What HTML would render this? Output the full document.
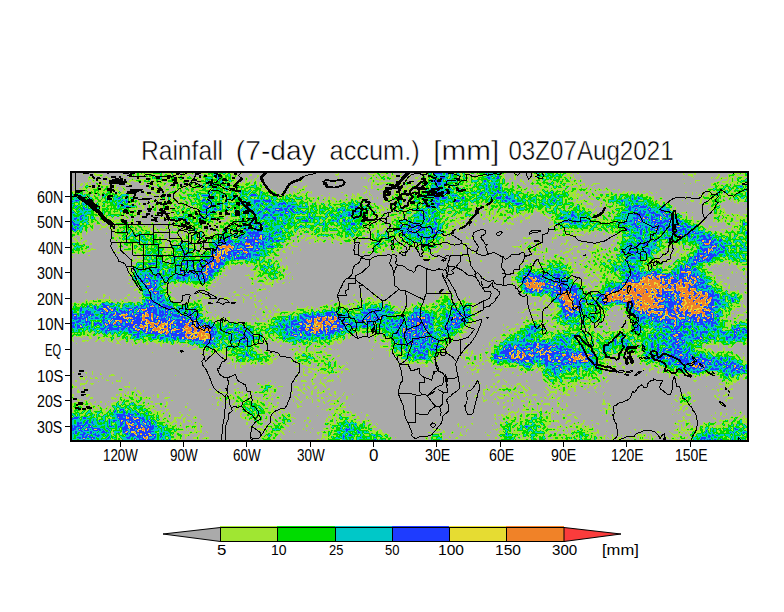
<!DOCTYPE html>
<html><head><meta charset="utf-8"><style>
html,body{margin:0;padding:0;background:#fff;width:784px;height:612px;overflow:hidden}
svg{display:block;font-family:"Liberation Sans",sans-serif;fill:#000}
</style></head><body>
<svg width="784" height="612" viewBox="0 0 784 612" shape-rendering="crispEdges">
<rect width="784" height="612" fill="#fff"/>
<text x="140.9" y="159.6" font-size="27.6" stroke="#fff" stroke-width="0.5" textLength="82.2" lengthAdjust="spacingAndGlyphs">Rainfall</text>
<text x="235.8" y="159.6" font-size="27.6" stroke="#fff" stroke-width="0.5" textLength="80.0" lengthAdjust="spacingAndGlyphs">(7-day</text>
<text x="329.6" y="159.6" font-size="27.6" stroke="#fff" stroke-width="0.5" textLength="90.1" lengthAdjust="spacingAndGlyphs">accum.)</text>
<text x="433.2" y="159.6" font-size="27.6" stroke="#fff" stroke-width="0.5" textLength="66.0" lengthAdjust="spacingAndGlyphs">[mm]</text>
<text x="508.4" y="159.6" font-size="27.6" stroke="#fff" stroke-width="0.5" textLength="165.2" lengthAdjust="spacingAndGlyphs">03Z07Aug2021</text>
<defs><clipPath id="mc"><rect x="72" y="173" width="675" height="267"/></clipPath></defs>
<rect x="72" y="173" width="675" height="267" fill="#aaaaaa"/>
<g clip-path="url(#mc)"><filter id="ff" x="60" y="160" width="700" height="290" filterUnits="userSpaceOnUse" color-interpolation-filters="sRGB">
<feGaussianBlur in="SourceGraphic" stdDeviation="3.5" result="b"/>
<feTurbulence type="fractalNoise" baseFrequency="0.35" numOctaves="1" seed="5"/>
<feColorMatrix type="matrix" values="1 0 0 0 0 1 0 0 0 0 1 0 0 0 0 0 0 0 0 1" result="n"/>
<feComposite in="b" in2="n" operator="arithmetic" k1="0" k2="1" k3="0.6542" k4="-0.3271"/>
<feComponentTransfer>
<feFuncR type="discrete" tableValues="0.6667 0.6667 0.6667 0.6667 0.6667 0.6667 0.6667 0.6667 0.6275 0.6275 0.6275 0.6275 0.0000 0.0000 0.0000 0.0000 0.0000 0.0000 0.0000 0.0000 0.1176 0.1176 0.1176 0.1176 0.1176 0.9020 0.9020 0.9412 0.9412 0.9412 0.9412 0.9412 0.9412 0.9412 0.9412 0.9412 0.9804 0.9804 0.9804 0.9804"/>
<feFuncG type="discrete" tableValues="0.6667 0.6667 0.6667 0.6667 0.6667 0.6667 0.6667 0.6667 0.9020 0.9020 0.9020 0.9020 0.8627 0.8627 0.8627 0.8627 0.7843 0.7843 0.7843 0.7843 0.2353 0.2353 0.2353 0.2353 0.2353 0.8627 0.8627 0.5098 0.5098 0.5098 0.5098 0.5098 0.5098 0.5098 0.5098 0.5098 0.2353 0.2353 0.2353 0.2353"/>
<feFuncB type="discrete" tableValues="0.6667 0.6667 0.6667 0.6667 0.6667 0.6667 0.6667 0.6667 0.1961 0.1961 0.1961 0.1961 0.0000 0.0000 0.0000 0.0000 0.7843 0.7843 0.7843 0.7843 1.0000 1.0000 1.0000 1.0000 1.0000 0.1961 0.1961 0.1569 0.1569 0.1569 0.1569 0.1569 0.1569 0.1569 0.1569 0.1569 0.2353 0.2353 0.2353 0.2353"/>
<feFuncA type="linear" slope="0" intercept="1"/>
</feComponentTransfer>
</filter><g filter="url(#ff)"><rect x="60" y="160" width="700" height="290" fill="#000"/>
<rect x="82" y="160" width="30" height="23" fill="#262626"/>
<rect x="122" y="160" width="10" height="23" fill="#262626"/>
<rect x="132" y="160" width="20" height="23" fill="#424242"/>
<rect x="152" y="160" width="10" height="23" fill="#595959"/>
<rect x="162" y="160" width="30" height="23" fill="#424242"/>
<rect x="192" y="160" width="10" height="23" fill="#262626"/>
<rect x="202" y="160" width="30" height="23" fill="#595959"/>
<rect x="232" y="160" width="30" height="23" fill="#262626"/>
<rect x="332" y="160" width="10" height="23" fill="#262626"/>
<rect x="362" y="160" width="10" height="23" fill="#262626"/>
<rect x="372" y="160" width="20" height="23" fill="#424242"/>
<rect x="392" y="160" width="30" height="23" fill="#262626"/>
<rect x="422" y="160" width="10" height="23" fill="#424242"/>
<rect x="432" y="160" width="10" height="23" fill="#858585"/>
<rect x="442" y="160" width="10" height="23" fill="#6e6e6e"/>
<rect x="452" y="160" width="10" height="23" fill="#595959"/>
<rect x="462" y="160" width="20" height="23" fill="#424242"/>
<rect x="482" y="160" width="20" height="23" fill="#6e6e6e"/>
<rect x="502" y="160" width="20" height="23" fill="#262626"/>
<rect x="532" y="160" width="30" height="23" fill="#595959"/>
<rect x="562" y="160" width="10" height="23" fill="#424242"/>
<rect x="572" y="160" width="10" height="23" fill="#262626"/>
<rect x="682" y="160" width="20" height="23" fill="#262626"/>
<rect x="712" y="160" width="20" height="23" fill="#262626"/>
<rect x="732" y="160" width="32" height="23" fill="#424242"/>
<rect x="60" y="183" width="22" height="10" fill="#262626"/>
<rect x="82" y="183" width="30" height="10" fill="#424242"/>
<rect x="112" y="183" width="20" height="10" fill="#262626"/>
<rect x="142" y="183" width="10" height="10" fill="#262626"/>
<rect x="152" y="183" width="10" height="10" fill="#424242"/>
<rect x="162" y="183" width="10" height="10" fill="#262626"/>
<rect x="172" y="183" width="30" height="10" fill="#424242"/>
<rect x="202" y="183" width="30" height="10" fill="#595959"/>
<rect x="232" y="183" width="10" height="10" fill="#424242"/>
<rect x="242" y="183" width="20" height="10" fill="#595959"/>
<rect x="262" y="183" width="10" height="10" fill="#262626"/>
<rect x="292" y="183" width="20" height="10" fill="#262626"/>
<rect x="362" y="183" width="40" height="10" fill="#262626"/>
<rect x="402" y="183" width="10" height="10" fill="#424242"/>
<rect x="412" y="183" width="10" height="10" fill="#262626"/>
<rect x="422" y="183" width="10" height="10" fill="#595959"/>
<rect x="432" y="183" width="10" height="10" fill="#858585"/>
<rect x="442" y="183" width="20" height="10" fill="#595959"/>
<rect x="462" y="183" width="10" height="10" fill="#424242"/>
<rect x="472" y="183" width="10" height="10" fill="#595959"/>
<rect x="482" y="183" width="20" height="10" fill="#6e6e6e"/>
<rect x="502" y="183" width="20" height="10" fill="#424242"/>
<rect x="522" y="183" width="20" height="10" fill="#262626"/>
<rect x="542" y="183" width="50" height="10" fill="#424242"/>
<rect x="592" y="183" width="20" height="10" fill="#262626"/>
<rect x="702" y="183" width="10" height="10" fill="#262626"/>
<rect x="712" y="183" width="52" height="10" fill="#595959"/>
<rect x="60" y="193" width="22" height="10" fill="#6e6e6e"/>
<rect x="82" y="193" width="10" height="10" fill="#595959"/>
<rect x="92" y="193" width="10" height="10" fill="#424242"/>
<rect x="102" y="193" width="10" height="10" fill="#595959"/>
<rect x="112" y="193" width="20" height="10" fill="#6e6e6e"/>
<rect x="132" y="193" width="30" height="10" fill="#262626"/>
<rect x="162" y="193" width="30" height="10" fill="#424242"/>
<rect x="192" y="193" width="10" height="10" fill="#595959"/>
<rect x="202" y="193" width="10" height="10" fill="#6e6e6e"/>
<rect x="212" y="193" width="30" height="10" fill="#595959"/>
<rect x="242" y="193" width="30" height="10" fill="#6e6e6e"/>
<rect x="272" y="193" width="30" height="10" fill="#595959"/>
<rect x="302" y="193" width="10" height="10" fill="#424242"/>
<rect x="312" y="193" width="40" height="10" fill="#262626"/>
<rect x="352" y="193" width="10" height="10" fill="#424242"/>
<rect x="362" y="193" width="10" height="10" fill="#262626"/>
<rect x="382" y="193" width="10" height="10" fill="#262626"/>
<rect x="392" y="193" width="10" height="10" fill="#595959"/>
<rect x="402" y="193" width="10" height="10" fill="#262626"/>
<rect x="412" y="193" width="20" height="10" fill="#595959"/>
<rect x="432" y="193" width="10" height="10" fill="#858585"/>
<rect x="442" y="193" width="20" height="10" fill="#6e6e6e"/>
<rect x="462" y="193" width="10" height="10" fill="#595959"/>
<rect x="472" y="193" width="10" height="10" fill="#6e6e6e"/>
<rect x="482" y="193" width="10" height="10" fill="#595959"/>
<rect x="492" y="193" width="10" height="10" fill="#6e6e6e"/>
<rect x="502" y="193" width="10" height="10" fill="#858585"/>
<rect x="512" y="193" width="10" height="10" fill="#6e6e6e"/>
<rect x="522" y="193" width="20" height="10" fill="#595959"/>
<rect x="542" y="193" width="20" height="10" fill="#6e6e6e"/>
<rect x="562" y="193" width="10" height="10" fill="#595959"/>
<rect x="572" y="193" width="20" height="10" fill="#262626"/>
<rect x="592" y="193" width="10" height="10" fill="#424242"/>
<rect x="602" y="193" width="10" height="10" fill="#595959"/>
<rect x="612" y="193" width="30" height="10" fill="#6e6e6e"/>
<rect x="642" y="193" width="10" height="10" fill="#595959"/>
<rect x="652" y="193" width="10" height="10" fill="#262626"/>
<rect x="682" y="193" width="20" height="10" fill="#262626"/>
<rect x="702" y="193" width="10" height="10" fill="#424242"/>
<rect x="712" y="193" width="10" height="10" fill="#595959"/>
<rect x="722" y="193" width="10" height="10" fill="#262626"/>
<rect x="732" y="193" width="32" height="10" fill="#595959"/>
<rect x="60" y="203" width="22" height="10" fill="#595959"/>
<rect x="82" y="203" width="10" height="10" fill="#6e6e6e"/>
<rect x="92" y="203" width="10" height="10" fill="#424242"/>
<rect x="102" y="203" width="20" height="10" fill="#595959"/>
<rect x="122" y="203" width="10" height="10" fill="#6e6e6e"/>
<rect x="132" y="203" width="10" height="10" fill="#424242"/>
<rect x="142" y="203" width="10" height="10" fill="#262626"/>
<rect x="152" y="203" width="50" height="10" fill="#424242"/>
<rect x="202" y="203" width="10" height="10" fill="#858585"/>
<rect x="212" y="203" width="10" height="10" fill="#6e6e6e"/>
<rect x="222" y="203" width="20" height="10" fill="#595959"/>
<rect x="242" y="203" width="30" height="10" fill="#6e6e6e"/>
<rect x="272" y="203" width="20" height="10" fill="#858585"/>
<rect x="292" y="203" width="10" height="10" fill="#6e6e6e"/>
<rect x="302" y="203" width="40" height="10" fill="#595959"/>
<rect x="342" y="203" width="10" height="10" fill="#6e6e6e"/>
<rect x="352" y="203" width="10" height="10" fill="#858585"/>
<rect x="362" y="203" width="10" height="10" fill="#595959"/>
<rect x="372" y="203" width="10" height="10" fill="#424242"/>
<rect x="382" y="203" width="10" height="10" fill="#262626"/>
<rect x="392" y="203" width="10" height="10" fill="#595959"/>
<rect x="402" y="203" width="10" height="10" fill="#424242"/>
<rect x="412" y="203" width="10" height="10" fill="#595959"/>
<rect x="422" y="203" width="20" height="10" fill="#6e6e6e"/>
<rect x="442" y="203" width="10" height="10" fill="#424242"/>
<rect x="452" y="203" width="20" height="10" fill="#595959"/>
<rect x="472" y="203" width="10" height="10" fill="#262626"/>
<rect x="482" y="203" width="30" height="10" fill="#424242"/>
<rect x="512" y="203" width="10" height="10" fill="#6e6e6e"/>
<rect x="522" y="203" width="40" height="10" fill="#595959"/>
<rect x="562" y="203" width="10" height="10" fill="#424242"/>
<rect x="572" y="203" width="10" height="10" fill="#595959"/>
<rect x="582" y="203" width="10" height="10" fill="#424242"/>
<rect x="602" y="203" width="10" height="10" fill="#262626"/>
<rect x="612" y="203" width="10" height="10" fill="#424242"/>
<rect x="622" y="203" width="10" height="10" fill="#6e6e6e"/>
<rect x="632" y="203" width="10" height="10" fill="#858585"/>
<rect x="642" y="203" width="20" height="10" fill="#6e6e6e"/>
<rect x="662" y="203" width="10" height="10" fill="#858585"/>
<rect x="702" y="203" width="10" height="10" fill="#262626"/>
<rect x="712" y="203" width="10" height="10" fill="#595959"/>
<rect x="60" y="213" width="32" height="10" fill="#6e6e6e"/>
<rect x="92" y="213" width="30" height="10" fill="#424242"/>
<rect x="122" y="213" width="20" height="10" fill="#262626"/>
<rect x="152" y="213" width="20" height="10" fill="#262626"/>
<rect x="172" y="213" width="10" height="10" fill="#595959"/>
<rect x="182" y="213" width="10" height="10" fill="#6e6e6e"/>
<rect x="192" y="213" width="10" height="10" fill="#595959"/>
<rect x="202" y="213" width="10" height="10" fill="#6e6e6e"/>
<rect x="212" y="213" width="10" height="10" fill="#424242"/>
<rect x="222" y="213" width="10" height="10" fill="#262626"/>
<rect x="232" y="213" width="20" height="10" fill="#595959"/>
<rect x="252" y="213" width="40" height="10" fill="#6e6e6e"/>
<rect x="292" y="213" width="10" height="10" fill="#595959"/>
<rect x="302" y="213" width="10" height="10" fill="#6e6e6e"/>
<rect x="312" y="213" width="20" height="10" fill="#595959"/>
<rect x="332" y="213" width="20" height="10" fill="#6e6e6e"/>
<rect x="352" y="213" width="10" height="10" fill="#595959"/>
<rect x="362" y="213" width="20" height="10" fill="#424242"/>
<rect x="382" y="213" width="10" height="10" fill="#262626"/>
<rect x="392" y="213" width="20" height="10" fill="#424242"/>
<rect x="412" y="213" width="20" height="10" fill="#6e6e6e"/>
<rect x="432" y="213" width="10" height="10" fill="#595959"/>
<rect x="442" y="213" width="30" height="10" fill="#424242"/>
<rect x="472" y="213" width="20" height="10" fill="#262626"/>
<rect x="492" y="213" width="20" height="10" fill="#424242"/>
<rect x="512" y="213" width="20" height="10" fill="#262626"/>
<rect x="542" y="213" width="10" height="10" fill="#262626"/>
<rect x="552" y="213" width="10" height="10" fill="#595959"/>
<rect x="562" y="213" width="20" height="10" fill="#858585"/>
<rect x="582" y="213" width="10" height="10" fill="#6e6e6e"/>
<rect x="592" y="213" width="20" height="10" fill="#424242"/>
<rect x="612" y="213" width="10" height="10" fill="#595959"/>
<rect x="622" y="213" width="10" height="10" fill="#6e6e6e"/>
<rect x="632" y="213" width="40" height="10" fill="#858585"/>
<rect x="672" y="213" width="10" height="10" fill="#6e6e6e"/>
<rect x="682" y="213" width="10" height="10" fill="#424242"/>
<rect x="712" y="213" width="10" height="10" fill="#595959"/>
<rect x="722" y="213" width="42" height="10" fill="#424242"/>
<rect x="60" y="223" width="22" height="10" fill="#858585"/>
<rect x="82" y="223" width="10" height="10" fill="#424242"/>
<rect x="92" y="223" width="20" height="10" fill="#262626"/>
<rect x="112" y="223" width="10" height="10" fill="#424242"/>
<rect x="122" y="223" width="10" height="10" fill="#595959"/>
<rect x="132" y="223" width="20" height="10" fill="#424242"/>
<rect x="152" y="223" width="20" height="10" fill="#262626"/>
<rect x="172" y="223" width="10" height="10" fill="#424242"/>
<rect x="182" y="223" width="10" height="10" fill="#262626"/>
<rect x="192" y="223" width="10" height="10" fill="#595959"/>
<rect x="202" y="223" width="20" height="10" fill="#262626"/>
<rect x="222" y="223" width="10" height="10" fill="#595959"/>
<rect x="232" y="223" width="10" height="10" fill="#424242"/>
<rect x="242" y="223" width="20" height="10" fill="#6e6e6e"/>
<rect x="262" y="223" width="10" height="10" fill="#595959"/>
<rect x="272" y="223" width="10" height="10" fill="#6e6e6e"/>
<rect x="282" y="223" width="50" height="10" fill="#595959"/>
<rect x="332" y="223" width="10" height="10" fill="#424242"/>
<rect x="342" y="223" width="20" height="10" fill="#6e6e6e"/>
<rect x="362" y="223" width="20" height="10" fill="#424242"/>
<rect x="382" y="223" width="10" height="10" fill="#262626"/>
<rect x="392" y="223" width="10" height="10" fill="#6e6e6e"/>
<rect x="402" y="223" width="20" height="10" fill="#858585"/>
<rect x="422" y="223" width="10" height="10" fill="#6e6e6e"/>
<rect x="432" y="223" width="10" height="10" fill="#858585"/>
<rect x="442" y="223" width="10" height="10" fill="#424242"/>
<rect x="452" y="223" width="20" height="10" fill="#262626"/>
<rect x="502" y="223" width="10" height="10" fill="#262626"/>
<rect x="552" y="223" width="10" height="10" fill="#424242"/>
<rect x="562" y="223" width="60" height="10" fill="#595959"/>
<rect x="622" y="223" width="10" height="10" fill="#6e6e6e"/>
<rect x="632" y="223" width="10" height="10" fill="#858585"/>
<rect x="642" y="223" width="10" height="10" fill="#6e6e6e"/>
<rect x="652" y="223" width="10" height="10" fill="#858585"/>
<rect x="662" y="223" width="10" height="10" fill="#6e6e6e"/>
<rect x="672" y="223" width="20" height="10" fill="#858585"/>
<rect x="692" y="223" width="10" height="10" fill="#6e6e6e"/>
<rect x="702" y="223" width="10" height="10" fill="#262626"/>
<rect x="722" y="223" width="10" height="10" fill="#262626"/>
<rect x="732" y="223" width="10" height="10" fill="#424242"/>
<rect x="742" y="223" width="22" height="10" fill="#6e6e6e"/>
<rect x="60" y="233" width="22" height="10" fill="#262626"/>
<rect x="112" y="233" width="10" height="10" fill="#424242"/>
<rect x="122" y="233" width="10" height="10" fill="#595959"/>
<rect x="132" y="233" width="10" height="10" fill="#6e6e6e"/>
<rect x="142" y="233" width="20" height="10" fill="#595959"/>
<rect x="162" y="233" width="20" height="10" fill="#262626"/>
<rect x="182" y="233" width="10" height="10" fill="#424242"/>
<rect x="192" y="233" width="10" height="10" fill="#595959"/>
<rect x="202" y="233" width="10" height="10" fill="#424242"/>
<rect x="212" y="233" width="10" height="10" fill="#595959"/>
<rect x="222" y="233" width="10" height="10" fill="#6e6e6e"/>
<rect x="232" y="233" width="10" height="10" fill="#595959"/>
<rect x="242" y="233" width="10" height="10" fill="#858585"/>
<rect x="252" y="233" width="10" height="10" fill="#9e9e9e"/>
<rect x="262" y="233" width="10" height="10" fill="#858585"/>
<rect x="272" y="233" width="10" height="10" fill="#6e6e6e"/>
<rect x="282" y="233" width="10" height="10" fill="#595959"/>
<rect x="292" y="233" width="20" height="10" fill="#262626"/>
<rect x="312" y="233" width="30" height="10" fill="#424242"/>
<rect x="342" y="233" width="10" height="10" fill="#595959"/>
<rect x="352" y="233" width="10" height="10" fill="#424242"/>
<rect x="362" y="233" width="10" height="10" fill="#262626"/>
<rect x="372" y="233" width="10" height="10" fill="#595959"/>
<rect x="382" y="233" width="10" height="10" fill="#6e6e6e"/>
<rect x="392" y="233" width="10" height="10" fill="#262626"/>
<rect x="402" y="233" width="40" height="10" fill="#6e6e6e"/>
<rect x="442" y="233" width="10" height="10" fill="#262626"/>
<rect x="462" y="233" width="10" height="10" fill="#262626"/>
<rect x="522" y="233" width="10" height="10" fill="#262626"/>
<rect x="552" y="233" width="20" height="10" fill="#262626"/>
<rect x="612" y="233" width="10" height="10" fill="#262626"/>
<rect x="622" y="233" width="10" height="10" fill="#595959"/>
<rect x="632" y="233" width="20" height="10" fill="#6e6e6e"/>
<rect x="652" y="233" width="10" height="10" fill="#595959"/>
<rect x="662" y="233" width="30" height="10" fill="#6e6e6e"/>
<rect x="692" y="233" width="10" height="10" fill="#858585"/>
<rect x="702" y="233" width="10" height="10" fill="#9e9e9e"/>
<rect x="712" y="233" width="10" height="10" fill="#6e6e6e"/>
<rect x="722" y="233" width="42" height="10" fill="#595959"/>
<rect x="60" y="243" width="22" height="10" fill="#6e6e6e"/>
<rect x="82" y="243" width="10" height="10" fill="#595959"/>
<rect x="112" y="243" width="10" height="10" fill="#262626"/>
<rect x="122" y="243" width="20" height="10" fill="#424242"/>
<rect x="142" y="243" width="20" height="10" fill="#595959"/>
<rect x="162" y="243" width="10" height="10" fill="#262626"/>
<rect x="172" y="243" width="20" height="10" fill="#6e6e6e"/>
<rect x="192" y="243" width="20" height="10" fill="#262626"/>
<rect x="212" y="243" width="10" height="10" fill="#9e9e9e"/>
<rect x="222" y="243" width="10" height="10" fill="#b8b8b8"/>
<rect x="232" y="243" width="10" height="10" fill="#858585"/>
<rect x="242" y="243" width="10" height="10" fill="#9e9e9e"/>
<rect x="252" y="243" width="10" height="10" fill="#858585"/>
<rect x="262" y="243" width="10" height="10" fill="#6e6e6e"/>
<rect x="272" y="243" width="10" height="10" fill="#595959"/>
<rect x="282" y="243" width="20" height="10" fill="#262626"/>
<rect x="362" y="243" width="10" height="10" fill="#262626"/>
<rect x="372" y="243" width="10" height="10" fill="#6e6e6e"/>
<rect x="382" y="243" width="10" height="10" fill="#262626"/>
<rect x="392" y="243" width="10" height="10" fill="#595959"/>
<rect x="402" y="243" width="20" height="10" fill="#262626"/>
<rect x="422" y="243" width="10" height="10" fill="#6e6e6e"/>
<rect x="432" y="243" width="40" height="10" fill="#262626"/>
<rect x="512" y="243" width="10" height="10" fill="#262626"/>
<rect x="522" y="243" width="20" height="10" fill="#424242"/>
<rect x="542" y="243" width="10" height="10" fill="#262626"/>
<rect x="562" y="243" width="30" height="10" fill="#262626"/>
<rect x="592" y="243" width="10" height="10" fill="#424242"/>
<rect x="602" y="243" width="10" height="10" fill="#262626"/>
<rect x="612" y="243" width="10" height="10" fill="#424242"/>
<rect x="622" y="243" width="10" height="10" fill="#858585"/>
<rect x="632" y="243" width="10" height="10" fill="#6e6e6e"/>
<rect x="642" y="243" width="10" height="10" fill="#858585"/>
<rect x="652" y="243" width="10" height="10" fill="#6e6e6e"/>
<rect x="662" y="243" width="30" height="10" fill="#262626"/>
<rect x="692" y="243" width="10" height="10" fill="#424242"/>
<rect x="702" y="243" width="10" height="10" fill="#9e9e9e"/>
<rect x="712" y="243" width="10" height="10" fill="#858585"/>
<rect x="722" y="243" width="10" height="10" fill="#6e6e6e"/>
<rect x="732" y="243" width="10" height="10" fill="#595959"/>
<rect x="742" y="243" width="22" height="10" fill="#6e6e6e"/>
<rect x="132" y="253" width="10" height="10" fill="#262626"/>
<rect x="142" y="253" width="10" height="10" fill="#595959"/>
<rect x="152" y="253" width="10" height="10" fill="#6e6e6e"/>
<rect x="162" y="253" width="10" height="10" fill="#424242"/>
<rect x="172" y="253" width="10" height="10" fill="#595959"/>
<rect x="182" y="253" width="10" height="10" fill="#6e6e6e"/>
<rect x="192" y="253" width="10" height="10" fill="#595959"/>
<rect x="202" y="253" width="10" height="10" fill="#6e6e6e"/>
<rect x="212" y="253" width="10" height="10" fill="#b8b8b8"/>
<rect x="222" y="253" width="30" height="10" fill="#858585"/>
<rect x="252" y="253" width="10" height="10" fill="#6e6e6e"/>
<rect x="262" y="253" width="10" height="10" fill="#424242"/>
<rect x="272" y="253" width="10" height="10" fill="#262626"/>
<rect x="362" y="253" width="10" height="10" fill="#262626"/>
<rect x="422" y="253" width="20" height="10" fill="#262626"/>
<rect x="462" y="253" width="20" height="10" fill="#262626"/>
<rect x="532" y="253" width="20" height="10" fill="#262626"/>
<rect x="552" y="253" width="10" height="10" fill="#424242"/>
<rect x="562" y="253" width="30" height="10" fill="#262626"/>
<rect x="592" y="253" width="30" height="10" fill="#424242"/>
<rect x="622" y="253" width="30" height="10" fill="#6e6e6e"/>
<rect x="652" y="253" width="30" height="10" fill="#262626"/>
<rect x="682" y="253" width="10" height="10" fill="#595959"/>
<rect x="692" y="253" width="20" height="10" fill="#9e9e9e"/>
<rect x="712" y="253" width="10" height="10" fill="#6e6e6e"/>
<rect x="722" y="253" width="10" height="10" fill="#595959"/>
<rect x="732" y="253" width="10" height="10" fill="#6e6e6e"/>
<rect x="742" y="253" width="22" height="10" fill="#595959"/>
<rect x="132" y="263" width="10" height="10" fill="#6e6e6e"/>
<rect x="142" y="263" width="10" height="10" fill="#595959"/>
<rect x="152" y="263" width="10" height="10" fill="#6e6e6e"/>
<rect x="162" y="263" width="10" height="10" fill="#595959"/>
<rect x="172" y="263" width="30" height="10" fill="#6e6e6e"/>
<rect x="202" y="263" width="20" height="10" fill="#9e9e9e"/>
<rect x="222" y="263" width="10" height="10" fill="#262626"/>
<rect x="252" y="263" width="10" height="10" fill="#424242"/>
<rect x="262" y="263" width="10" height="10" fill="#6e6e6e"/>
<rect x="272" y="263" width="10" height="10" fill="#595959"/>
<rect x="282" y="263" width="10" height="10" fill="#262626"/>
<rect x="522" y="263" width="10" height="10" fill="#6e6e6e"/>
<rect x="532" y="263" width="10" height="10" fill="#262626"/>
<rect x="542" y="263" width="10" height="10" fill="#595959"/>
<rect x="552" y="263" width="10" height="10" fill="#6e6e6e"/>
<rect x="562" y="263" width="10" height="10" fill="#595959"/>
<rect x="572" y="263" width="10" height="10" fill="#262626"/>
<rect x="582" y="263" width="20" height="10" fill="#424242"/>
<rect x="602" y="263" width="10" height="10" fill="#595959"/>
<rect x="612" y="263" width="30" height="10" fill="#6e6e6e"/>
<rect x="642" y="263" width="10" height="10" fill="#262626"/>
<rect x="652" y="263" width="10" height="10" fill="#595959"/>
<rect x="662" y="263" width="10" height="10" fill="#262626"/>
<rect x="672" y="263" width="10" height="10" fill="#6e6e6e"/>
<rect x="682" y="263" width="10" height="10" fill="#9e9e9e"/>
<rect x="692" y="263" width="10" height="10" fill="#595959"/>
<rect x="702" y="263" width="10" height="10" fill="#262626"/>
<rect x="732" y="263" width="10" height="10" fill="#262626"/>
<rect x="742" y="263" width="22" height="10" fill="#424242"/>
<rect x="132" y="273" width="20" height="10" fill="#858585"/>
<rect x="152" y="273" width="20" height="10" fill="#6e6e6e"/>
<rect x="172" y="273" width="30" height="10" fill="#858585"/>
<rect x="202" y="273" width="10" height="10" fill="#9e9e9e"/>
<rect x="212" y="273" width="10" height="10" fill="#262626"/>
<rect x="242" y="273" width="10" height="10" fill="#262626"/>
<rect x="252" y="273" width="20" height="10" fill="#424242"/>
<rect x="272" y="273" width="10" height="10" fill="#595959"/>
<rect x="282" y="273" width="10" height="10" fill="#262626"/>
<rect x="482" y="273" width="10" height="10" fill="#262626"/>
<rect x="512" y="273" width="10" height="10" fill="#6e6e6e"/>
<rect x="522" y="273" width="20" height="10" fill="#9e9e9e"/>
<rect x="542" y="273" width="10" height="10" fill="#6e6e6e"/>
<rect x="552" y="273" width="10" height="10" fill="#858585"/>
<rect x="562" y="273" width="10" height="10" fill="#6e6e6e"/>
<rect x="582" y="273" width="20" height="10" fill="#262626"/>
<rect x="602" y="273" width="10" height="10" fill="#424242"/>
<rect x="612" y="273" width="10" height="10" fill="#262626"/>
<rect x="622" y="273" width="20" height="10" fill="#858585"/>
<rect x="642" y="273" width="20" height="10" fill="#b8b8b8"/>
<rect x="662" y="273" width="10" height="10" fill="#9e9e9e"/>
<rect x="672" y="273" width="10" height="10" fill="#858585"/>
<rect x="682" y="273" width="20" height="10" fill="#9e9e9e"/>
<rect x="702" y="273" width="10" height="10" fill="#6e6e6e"/>
<rect x="712" y="273" width="20" height="10" fill="#262626"/>
<rect x="742" y="273" width="22" height="10" fill="#262626"/>
<rect x="82" y="283" width="10" height="10" fill="#262626"/>
<rect x="132" y="283" width="10" height="10" fill="#262626"/>
<rect x="142" y="283" width="10" height="10" fill="#9e9e9e"/>
<rect x="152" y="283" width="10" height="10" fill="#858585"/>
<rect x="162" y="283" width="10" height="10" fill="#262626"/>
<rect x="192" y="283" width="20" height="10" fill="#262626"/>
<rect x="232" y="283" width="10" height="10" fill="#262626"/>
<rect x="252" y="283" width="20" height="10" fill="#262626"/>
<rect x="522" y="283" width="10" height="10" fill="#b8b8b8"/>
<rect x="532" y="283" width="10" height="10" fill="#d6d6d6"/>
<rect x="542" y="283" width="10" height="10" fill="#858585"/>
<rect x="552" y="283" width="10" height="10" fill="#9e9e9e"/>
<rect x="562" y="283" width="20" height="10" fill="#858585"/>
<rect x="582" y="283" width="20" height="10" fill="#262626"/>
<rect x="602" y="283" width="10" height="10" fill="#6e6e6e"/>
<rect x="612" y="283" width="10" height="10" fill="#858585"/>
<rect x="622" y="283" width="40" height="10" fill="#b8b8b8"/>
<rect x="662" y="283" width="10" height="10" fill="#9e9e9e"/>
<rect x="672" y="283" width="20" height="10" fill="#b8b8b8"/>
<rect x="692" y="283" width="10" height="10" fill="#858585"/>
<rect x="702" y="283" width="10" height="10" fill="#6e6e6e"/>
<rect x="712" y="283" width="10" height="10" fill="#595959"/>
<rect x="722" y="283" width="10" height="10" fill="#262626"/>
<rect x="742" y="283" width="22" height="10" fill="#424242"/>
<rect x="92" y="293" width="20" height="10" fill="#262626"/>
<rect x="122" y="293" width="10" height="10" fill="#262626"/>
<rect x="142" y="293" width="10" height="10" fill="#6e6e6e"/>
<rect x="152" y="293" width="10" height="10" fill="#858585"/>
<rect x="162" y="293" width="10" height="10" fill="#6e6e6e"/>
<rect x="192" y="293" width="70" height="10" fill="#262626"/>
<rect x="352" y="293" width="30" height="10" fill="#262626"/>
<rect x="432" y="293" width="10" height="10" fill="#262626"/>
<rect x="442" y="293" width="10" height="10" fill="#6e6e6e"/>
<rect x="462" y="293" width="10" height="10" fill="#262626"/>
<rect x="532" y="293" width="20" height="10" fill="#262626"/>
<rect x="552" y="293" width="10" height="10" fill="#858585"/>
<rect x="562" y="293" width="10" height="10" fill="#d6d6d6"/>
<rect x="572" y="293" width="10" height="10" fill="#858585"/>
<rect x="582" y="293" width="10" height="10" fill="#595959"/>
<rect x="592" y="293" width="10" height="10" fill="#6e6e6e"/>
<rect x="602" y="293" width="20" height="10" fill="#d6d6d6"/>
<rect x="622" y="293" width="30" height="10" fill="#b8b8b8"/>
<rect x="652" y="293" width="10" height="10" fill="#9e9e9e"/>
<rect x="662" y="293" width="20" height="10" fill="#858585"/>
<rect x="682" y="293" width="30" height="10" fill="#b8b8b8"/>
<rect x="712" y="293" width="10" height="10" fill="#858585"/>
<rect x="722" y="293" width="10" height="10" fill="#6e6e6e"/>
<rect x="732" y="293" width="10" height="10" fill="#858585"/>
<rect x="60" y="303" width="22" height="10" fill="#595959"/>
<rect x="82" y="303" width="10" height="10" fill="#858585"/>
<rect x="92" y="303" width="10" height="10" fill="#6e6e6e"/>
<rect x="102" y="303" width="10" height="10" fill="#b8b8b8"/>
<rect x="112" y="303" width="10" height="10" fill="#6e6e6e"/>
<rect x="122" y="303" width="20" height="10" fill="#858585"/>
<rect x="142" y="303" width="10" height="10" fill="#8f8f8f"/>
<rect x="152" y="303" width="20" height="10" fill="#858585"/>
<rect x="172" y="303" width="30" height="10" fill="#6e6e6e"/>
<rect x="202" y="303" width="10" height="10" fill="#262626"/>
<rect x="252" y="303" width="30" height="10" fill="#262626"/>
<rect x="292" y="303" width="30" height="10" fill="#262626"/>
<rect x="322" y="303" width="10" height="10" fill="#424242"/>
<rect x="332" y="303" width="10" height="10" fill="#595959"/>
<rect x="342" y="303" width="20" height="10" fill="#424242"/>
<rect x="362" y="303" width="20" height="10" fill="#6e6e6e"/>
<rect x="382" y="303" width="10" height="10" fill="#858585"/>
<rect x="392" y="303" width="20" height="10" fill="#262626"/>
<rect x="412" y="303" width="10" height="10" fill="#6e6e6e"/>
<rect x="422" y="303" width="10" height="10" fill="#424242"/>
<rect x="432" y="303" width="20" height="10" fill="#595959"/>
<rect x="452" y="303" width="20" height="10" fill="#6e6e6e"/>
<rect x="472" y="303" width="10" height="10" fill="#262626"/>
<rect x="522" y="303" width="40" height="10" fill="#262626"/>
<rect x="562" y="303" width="10" height="10" fill="#b8b8b8"/>
<rect x="572" y="303" width="10" height="10" fill="#9e9e9e"/>
<rect x="582" y="303" width="20" height="10" fill="#595959"/>
<rect x="602" y="303" width="10" height="10" fill="#424242"/>
<rect x="622" y="303" width="10" height="10" fill="#595959"/>
<rect x="632" y="303" width="10" height="10" fill="#9e9e9e"/>
<rect x="642" y="303" width="20" height="10" fill="#b8b8b8"/>
<rect x="662" y="303" width="10" height="10" fill="#858585"/>
<rect x="672" y="303" width="10" height="10" fill="#9e9e9e"/>
<rect x="682" y="303" width="20" height="10" fill="#b8b8b8"/>
<rect x="702" y="303" width="10" height="10" fill="#9e9e9e"/>
<rect x="712" y="303" width="10" height="10" fill="#6e6e6e"/>
<rect x="722" y="303" width="10" height="10" fill="#595959"/>
<rect x="732" y="303" width="32" height="10" fill="#262626"/>
<rect x="60" y="313" width="32" height="10" fill="#858585"/>
<rect x="92" y="313" width="20" height="10" fill="#6e6e6e"/>
<rect x="112" y="313" width="20" height="10" fill="#9e9e9e"/>
<rect x="132" y="313" width="10" height="10" fill="#858585"/>
<rect x="142" y="313" width="10" height="10" fill="#b8b8b8"/>
<rect x="152" y="313" width="50" height="10" fill="#858585"/>
<rect x="202" y="313" width="30" height="10" fill="#262626"/>
<rect x="252" y="313" width="20" height="10" fill="#262626"/>
<rect x="272" y="313" width="10" height="10" fill="#595959"/>
<rect x="282" y="313" width="20" height="10" fill="#6e6e6e"/>
<rect x="302" y="313" width="20" height="10" fill="#9e9e9e"/>
<rect x="322" y="313" width="10" height="10" fill="#b8b8b8"/>
<rect x="332" y="313" width="10" height="10" fill="#9e9e9e"/>
<rect x="342" y="313" width="20" height="10" fill="#6e6e6e"/>
<rect x="362" y="313" width="10" height="10" fill="#9e9e9e"/>
<rect x="372" y="313" width="10" height="10" fill="#858585"/>
<rect x="382" y="313" width="30" height="10" fill="#6e6e6e"/>
<rect x="412" y="313" width="20" height="10" fill="#9e9e9e"/>
<rect x="432" y="313" width="10" height="10" fill="#424242"/>
<rect x="442" y="313" width="10" height="10" fill="#6e6e6e"/>
<rect x="452" y="313" width="10" height="10" fill="#9e9e9e"/>
<rect x="462" y="313" width="10" height="10" fill="#858585"/>
<rect x="472" y="313" width="10" height="10" fill="#262626"/>
<rect x="522" y="313" width="30" height="10" fill="#262626"/>
<rect x="552" y="313" width="10" height="10" fill="#595959"/>
<rect x="562" y="313" width="10" height="10" fill="#858585"/>
<rect x="572" y="313" width="20" height="10" fill="#595959"/>
<rect x="592" y="313" width="10" height="10" fill="#6e6e6e"/>
<rect x="602" y="313" width="10" height="10" fill="#262626"/>
<rect x="622" y="313" width="10" height="10" fill="#262626"/>
<rect x="632" y="313" width="10" height="10" fill="#6e6e6e"/>
<rect x="642" y="313" width="20" height="10" fill="#858585"/>
<rect x="662" y="313" width="20" height="10" fill="#9e9e9e"/>
<rect x="682" y="313" width="10" height="10" fill="#858585"/>
<rect x="692" y="313" width="20" height="10" fill="#9e9e9e"/>
<rect x="712" y="313" width="10" height="10" fill="#858585"/>
<rect x="722" y="313" width="42" height="10" fill="#262626"/>
<rect x="60" y="323" width="22" height="10" fill="#858585"/>
<rect x="82" y="323" width="20" height="10" fill="#6e6e6e"/>
<rect x="102" y="323" width="10" height="10" fill="#9e9e9e"/>
<rect x="112" y="323" width="20" height="10" fill="#858585"/>
<rect x="132" y="323" width="20" height="10" fill="#9e9e9e"/>
<rect x="152" y="323" width="20" height="10" fill="#b8b8b8"/>
<rect x="172" y="323" width="10" height="10" fill="#858585"/>
<rect x="182" y="323" width="10" height="10" fill="#b8b8b8"/>
<rect x="192" y="323" width="10" height="10" fill="#9e9e9e"/>
<rect x="202" y="323" width="10" height="10" fill="#b8b8b8"/>
<rect x="212" y="323" width="20" height="10" fill="#6e6e6e"/>
<rect x="232" y="323" width="10" height="10" fill="#858585"/>
<rect x="242" y="323" width="10" height="10" fill="#6e6e6e"/>
<rect x="252" y="323" width="10" height="10" fill="#424242"/>
<rect x="262" y="323" width="10" height="10" fill="#595959"/>
<rect x="272" y="323" width="10" height="10" fill="#6e6e6e"/>
<rect x="282" y="323" width="20" height="10" fill="#858585"/>
<rect x="302" y="323" width="10" height="10" fill="#9e9e9e"/>
<rect x="312" y="323" width="10" height="10" fill="#b8b8b8"/>
<rect x="322" y="323" width="20" height="10" fill="#9e9e9e"/>
<rect x="342" y="323" width="10" height="10" fill="#858585"/>
<rect x="352" y="323" width="20" height="10" fill="#6e6e6e"/>
<rect x="372" y="323" width="10" height="10" fill="#595959"/>
<rect x="382" y="323" width="10" height="10" fill="#6e6e6e"/>
<rect x="392" y="323" width="40" height="10" fill="#858585"/>
<rect x="432" y="323" width="10" height="10" fill="#595959"/>
<rect x="442" y="323" width="20" height="10" fill="#858585"/>
<rect x="462" y="323" width="10" height="10" fill="#262626"/>
<rect x="502" y="323" width="20" height="10" fill="#262626"/>
<rect x="522" y="323" width="10" height="10" fill="#6e6e6e"/>
<rect x="532" y="323" width="10" height="10" fill="#858585"/>
<rect x="542" y="323" width="20" height="10" fill="#262626"/>
<rect x="562" y="323" width="10" height="10" fill="#424242"/>
<rect x="572" y="323" width="10" height="10" fill="#595959"/>
<rect x="582" y="323" width="10" height="10" fill="#424242"/>
<rect x="592" y="323" width="40" height="10" fill="#262626"/>
<rect x="632" y="323" width="10" height="10" fill="#858585"/>
<rect x="642" y="323" width="10" height="10" fill="#424242"/>
<rect x="652" y="323" width="20" height="10" fill="#6e6e6e"/>
<rect x="672" y="323" width="10" height="10" fill="#858585"/>
<rect x="682" y="323" width="40" height="10" fill="#6e6e6e"/>
<rect x="722" y="323" width="10" height="10" fill="#424242"/>
<rect x="732" y="323" width="10" height="10" fill="#858585"/>
<rect x="742" y="323" width="22" height="10" fill="#6e6e6e"/>
<rect x="60" y="333" width="42" height="10" fill="#262626"/>
<rect x="102" y="333" width="30" height="10" fill="#424242"/>
<rect x="132" y="333" width="10" height="10" fill="#6e6e6e"/>
<rect x="142" y="333" width="10" height="10" fill="#595959"/>
<rect x="152" y="333" width="10" height="10" fill="#6e6e6e"/>
<rect x="162" y="333" width="20" height="10" fill="#858585"/>
<rect x="182" y="333" width="10" height="10" fill="#9e9e9e"/>
<rect x="192" y="333" width="20" height="10" fill="#b8b8b8"/>
<rect x="212" y="333" width="10" height="10" fill="#6e6e6e"/>
<rect x="222" y="333" width="10" height="10" fill="#595959"/>
<rect x="232" y="333" width="10" height="10" fill="#6e6e6e"/>
<rect x="242" y="333" width="10" height="10" fill="#858585"/>
<rect x="252" y="333" width="10" height="10" fill="#6e6e6e"/>
<rect x="262" y="333" width="20" height="10" fill="#424242"/>
<rect x="282" y="333" width="10" height="10" fill="#6e6e6e"/>
<rect x="292" y="333" width="10" height="10" fill="#858585"/>
<rect x="302" y="333" width="30" height="10" fill="#6e6e6e"/>
<rect x="332" y="333" width="10" height="10" fill="#595959"/>
<rect x="342" y="333" width="10" height="10" fill="#262626"/>
<rect x="372" y="333" width="10" height="10" fill="#262626"/>
<rect x="382" y="333" width="10" height="10" fill="#424242"/>
<rect x="392" y="333" width="10" height="10" fill="#6e6e6e"/>
<rect x="402" y="333" width="30" height="10" fill="#858585"/>
<rect x="432" y="333" width="10" height="10" fill="#6e6e6e"/>
<rect x="442" y="333" width="10" height="10" fill="#595959"/>
<rect x="452" y="333" width="10" height="10" fill="#262626"/>
<rect x="492" y="333" width="10" height="10" fill="#262626"/>
<rect x="502" y="333" width="10" height="10" fill="#424242"/>
<rect x="512" y="333" width="20" height="10" fill="#6e6e6e"/>
<rect x="532" y="333" width="10" height="10" fill="#595959"/>
<rect x="542" y="333" width="10" height="10" fill="#424242"/>
<rect x="552" y="333" width="20" height="10" fill="#6e6e6e"/>
<rect x="572" y="333" width="30" height="10" fill="#595959"/>
<rect x="602" y="333" width="10" height="10" fill="#424242"/>
<rect x="612" y="333" width="20" height="10" fill="#6e6e6e"/>
<rect x="632" y="333" width="10" height="10" fill="#424242"/>
<rect x="642" y="333" width="30" height="10" fill="#6e6e6e"/>
<rect x="672" y="333" width="10" height="10" fill="#9e9e9e"/>
<rect x="682" y="333" width="10" height="10" fill="#6e6e6e"/>
<rect x="692" y="333" width="10" height="10" fill="#858585"/>
<rect x="702" y="333" width="20" height="10" fill="#6e6e6e"/>
<rect x="722" y="333" width="20" height="10" fill="#858585"/>
<rect x="742" y="333" width="22" height="10" fill="#6e6e6e"/>
<rect x="192" y="343" width="10" height="10" fill="#262626"/>
<rect x="202" y="343" width="40" height="10" fill="#595959"/>
<rect x="242" y="343" width="10" height="10" fill="#6e6e6e"/>
<rect x="252" y="343" width="10" height="10" fill="#262626"/>
<rect x="292" y="343" width="40" height="10" fill="#262626"/>
<rect x="372" y="343" width="20" height="10" fill="#262626"/>
<rect x="392" y="343" width="10" height="10" fill="#6e6e6e"/>
<rect x="402" y="343" width="10" height="10" fill="#595959"/>
<rect x="412" y="343" width="10" height="10" fill="#858585"/>
<rect x="422" y="343" width="10" height="10" fill="#6e6e6e"/>
<rect x="432" y="343" width="10" height="10" fill="#858585"/>
<rect x="442" y="343" width="10" height="10" fill="#262626"/>
<rect x="462" y="343" width="10" height="10" fill="#262626"/>
<rect x="482" y="343" width="10" height="10" fill="#262626"/>
<rect x="492" y="343" width="10" height="10" fill="#424242"/>
<rect x="502" y="343" width="10" height="10" fill="#9e9e9e"/>
<rect x="512" y="343" width="20" height="10" fill="#858585"/>
<rect x="532" y="343" width="20" height="10" fill="#9e9e9e"/>
<rect x="552" y="343" width="10" height="10" fill="#858585"/>
<rect x="562" y="343" width="10" height="10" fill="#6e6e6e"/>
<rect x="572" y="343" width="20" height="10" fill="#595959"/>
<rect x="592" y="343" width="10" height="10" fill="#424242"/>
<rect x="602" y="343" width="10" height="10" fill="#858585"/>
<rect x="612" y="343" width="10" height="10" fill="#595959"/>
<rect x="622" y="343" width="10" height="10" fill="#6e6e6e"/>
<rect x="632" y="343" width="10" height="10" fill="#424242"/>
<rect x="642" y="343" width="30" height="10" fill="#6e6e6e"/>
<rect x="672" y="343" width="10" height="10" fill="#858585"/>
<rect x="682" y="343" width="10" height="10" fill="#6e6e6e"/>
<rect x="692" y="343" width="10" height="10" fill="#424242"/>
<rect x="702" y="343" width="10" height="10" fill="#262626"/>
<rect x="722" y="343" width="10" height="10" fill="#262626"/>
<rect x="222" y="353" width="10" height="10" fill="#262626"/>
<rect x="232" y="353" width="10" height="10" fill="#595959"/>
<rect x="242" y="353" width="30" height="10" fill="#6e6e6e"/>
<rect x="272" y="353" width="10" height="10" fill="#262626"/>
<rect x="292" y="353" width="10" height="10" fill="#595959"/>
<rect x="302" y="353" width="10" height="10" fill="#6e6e6e"/>
<rect x="312" y="353" width="20" height="10" fill="#424242"/>
<rect x="332" y="353" width="10" height="10" fill="#262626"/>
<rect x="392" y="353" width="10" height="10" fill="#262626"/>
<rect x="402" y="353" width="20" height="10" fill="#6e6e6e"/>
<rect x="422" y="353" width="10" height="10" fill="#858585"/>
<rect x="432" y="353" width="10" height="10" fill="#262626"/>
<rect x="462" y="353" width="20" height="10" fill="#424242"/>
<rect x="482" y="353" width="10" height="10" fill="#262626"/>
<rect x="492" y="353" width="10" height="10" fill="#9e9e9e"/>
<rect x="502" y="353" width="10" height="10" fill="#858585"/>
<rect x="512" y="353" width="10" height="10" fill="#b8b8b8"/>
<rect x="522" y="353" width="10" height="10" fill="#9e9e9e"/>
<rect x="532" y="353" width="10" height="10" fill="#858585"/>
<rect x="542" y="353" width="10" height="10" fill="#9e9e9e"/>
<rect x="552" y="353" width="10" height="10" fill="#858585"/>
<rect x="562" y="353" width="10" height="10" fill="#9e9e9e"/>
<rect x="572" y="353" width="20" height="10" fill="#b8b8b8"/>
<rect x="592" y="353" width="10" height="10" fill="#595959"/>
<rect x="602" y="353" width="10" height="10" fill="#424242"/>
<rect x="612" y="353" width="30" height="10" fill="#262626"/>
<rect x="642" y="353" width="10" height="10" fill="#6e6e6e"/>
<rect x="652" y="353" width="60" height="10" fill="#858585"/>
<rect x="712" y="353" width="20" height="10" fill="#6e6e6e"/>
<rect x="732" y="353" width="10" height="10" fill="#595959"/>
<rect x="232" y="363" width="10" height="10" fill="#262626"/>
<rect x="302" y="363" width="20" height="10" fill="#262626"/>
<rect x="322" y="363" width="10" height="10" fill="#595959"/>
<rect x="332" y="363" width="10" height="10" fill="#424242"/>
<rect x="342" y="363" width="10" height="10" fill="#262626"/>
<rect x="462" y="363" width="20" height="10" fill="#262626"/>
<rect x="492" y="363" width="30" height="10" fill="#262626"/>
<rect x="522" y="363" width="10" height="10" fill="#6e6e6e"/>
<rect x="532" y="363" width="10" height="10" fill="#262626"/>
<rect x="542" y="363" width="10" height="10" fill="#6e6e6e"/>
<rect x="552" y="363" width="10" height="10" fill="#858585"/>
<rect x="562" y="363" width="10" height="10" fill="#6e6e6e"/>
<rect x="572" y="363" width="20" height="10" fill="#595959"/>
<rect x="592" y="363" width="10" height="10" fill="#6e6e6e"/>
<rect x="602" y="363" width="30" height="10" fill="#262626"/>
<rect x="642" y="363" width="20" height="10" fill="#262626"/>
<rect x="662" y="363" width="10" height="10" fill="#595959"/>
<rect x="672" y="363" width="10" height="10" fill="#6e6e6e"/>
<rect x="682" y="363" width="10" height="10" fill="#858585"/>
<rect x="692" y="363" width="10" height="10" fill="#b8b8b8"/>
<rect x="702" y="363" width="30" height="10" fill="#858585"/>
<rect x="732" y="363" width="10" height="10" fill="#9e9e9e"/>
<rect x="742" y="363" width="22" height="10" fill="#858585"/>
<rect x="60" y="373" width="62" height="10" fill="#262626"/>
<rect x="292" y="373" width="50" height="10" fill="#262626"/>
<rect x="472" y="373" width="10" height="10" fill="#262626"/>
<rect x="492" y="373" width="10" height="10" fill="#262626"/>
<rect x="542" y="373" width="20" height="10" fill="#595959"/>
<rect x="562" y="373" width="10" height="10" fill="#424242"/>
<rect x="572" y="373" width="10" height="10" fill="#595959"/>
<rect x="582" y="373" width="20" height="10" fill="#424242"/>
<rect x="602" y="373" width="10" height="10" fill="#262626"/>
<rect x="672" y="373" width="10" height="10" fill="#262626"/>
<rect x="692" y="373" width="10" height="10" fill="#262626"/>
<rect x="722" y="373" width="10" height="10" fill="#6e6e6e"/>
<rect x="732" y="373" width="10" height="10" fill="#424242"/>
<rect x="742" y="373" width="22" height="10" fill="#262626"/>
<rect x="60" y="383" width="32" height="10" fill="#262626"/>
<rect x="112" y="383" width="30" height="10" fill="#262626"/>
<rect x="212" y="383" width="10" height="10" fill="#262626"/>
<rect x="232" y="383" width="10" height="10" fill="#262626"/>
<rect x="252" y="383" width="10" height="10" fill="#262626"/>
<rect x="262" y="383" width="10" height="10" fill="#6e6e6e"/>
<rect x="272" y="383" width="10" height="10" fill="#262626"/>
<rect x="292" y="383" width="40" height="10" fill="#262626"/>
<rect x="462" y="383" width="10" height="10" fill="#262626"/>
<rect x="482" y="383" width="20" height="10" fill="#262626"/>
<rect x="502" y="383" width="20" height="10" fill="#424242"/>
<rect x="522" y="383" width="10" height="10" fill="#262626"/>
<rect x="542" y="383" width="10" height="10" fill="#262626"/>
<rect x="552" y="383" width="20" height="10" fill="#424242"/>
<rect x="572" y="383" width="30" height="10" fill="#262626"/>
<rect x="712" y="383" width="20" height="10" fill="#262626"/>
<rect x="60" y="393" width="32" height="10" fill="#262626"/>
<rect x="112" y="393" width="10" height="10" fill="#262626"/>
<rect x="122" y="393" width="20" height="10" fill="#424242"/>
<rect x="142" y="393" width="30" height="10" fill="#262626"/>
<rect x="212" y="393" width="10" height="10" fill="#262626"/>
<rect x="222" y="393" width="30" height="10" fill="#424242"/>
<rect x="252" y="393" width="30" height="10" fill="#262626"/>
<rect x="292" y="393" width="60" height="10" fill="#262626"/>
<rect x="472" y="393" width="100" height="10" fill="#262626"/>
<rect x="602" y="393" width="10" height="10" fill="#262626"/>
<rect x="672" y="393" width="10" height="10" fill="#262626"/>
<rect x="682" y="393" width="10" height="10" fill="#6e6e6e"/>
<rect x="712" y="393" width="20" height="10" fill="#262626"/>
<rect x="60" y="403" width="42" height="10" fill="#424242"/>
<rect x="102" y="403" width="10" height="10" fill="#262626"/>
<rect x="112" y="403" width="10" height="10" fill="#6e6e6e"/>
<rect x="122" y="403" width="20" height="10" fill="#595959"/>
<rect x="142" y="403" width="10" height="10" fill="#424242"/>
<rect x="152" y="403" width="20" height="10" fill="#262626"/>
<rect x="182" y="403" width="10" height="10" fill="#262626"/>
<rect x="212" y="403" width="10" height="10" fill="#262626"/>
<rect x="232" y="403" width="10" height="10" fill="#262626"/>
<rect x="242" y="403" width="10" height="10" fill="#595959"/>
<rect x="252" y="403" width="10" height="10" fill="#6e6e6e"/>
<rect x="262" y="403" width="10" height="10" fill="#424242"/>
<rect x="272" y="403" width="10" height="10" fill="#262626"/>
<rect x="292" y="403" width="10" height="10" fill="#262626"/>
<rect x="322" y="403" width="10" height="10" fill="#262626"/>
<rect x="332" y="403" width="10" height="10" fill="#424242"/>
<rect x="342" y="403" width="10" height="10" fill="#262626"/>
<rect x="502" y="403" width="10" height="10" fill="#262626"/>
<rect x="522" y="403" width="10" height="10" fill="#424242"/>
<rect x="532" y="403" width="40" height="10" fill="#262626"/>
<rect x="602" y="403" width="10" height="10" fill="#424242"/>
<rect x="672" y="403" width="20" height="10" fill="#262626"/>
<rect x="60" y="413" width="32" height="10" fill="#6e6e6e"/>
<rect x="92" y="413" width="20" height="10" fill="#595959"/>
<rect x="112" y="413" width="10" height="10" fill="#858585"/>
<rect x="122" y="413" width="10" height="10" fill="#9e9e9e"/>
<rect x="132" y="413" width="10" height="10" fill="#858585"/>
<rect x="142" y="413" width="10" height="10" fill="#6e6e6e"/>
<rect x="152" y="413" width="10" height="10" fill="#595959"/>
<rect x="162" y="413" width="40" height="10" fill="#262626"/>
<rect x="242" y="413" width="10" height="10" fill="#424242"/>
<rect x="252" y="413" width="10" height="10" fill="#595959"/>
<rect x="262" y="413" width="20" height="10" fill="#262626"/>
<rect x="282" y="413" width="10" height="10" fill="#6e6e6e"/>
<rect x="302" y="413" width="10" height="10" fill="#262626"/>
<rect x="322" y="413" width="10" height="10" fill="#262626"/>
<rect x="332" y="413" width="10" height="10" fill="#424242"/>
<rect x="342" y="413" width="10" height="10" fill="#595959"/>
<rect x="352" y="413" width="20" height="10" fill="#262626"/>
<rect x="492" y="413" width="10" height="10" fill="#262626"/>
<rect x="502" y="413" width="30" height="10" fill="#424242"/>
<rect x="532" y="413" width="10" height="10" fill="#595959"/>
<rect x="542" y="413" width="10" height="10" fill="#424242"/>
<rect x="552" y="413" width="30" height="10" fill="#262626"/>
<rect x="602" y="413" width="10" height="10" fill="#262626"/>
<rect x="672" y="413" width="20" height="10" fill="#262626"/>
<rect x="712" y="413" width="20" height="10" fill="#262626"/>
<rect x="732" y="413" width="10" height="10" fill="#424242"/>
<rect x="742" y="413" width="22" height="10" fill="#262626"/>
<rect x="60" y="423" width="42" height="10" fill="#858585"/>
<rect x="102" y="423" width="10" height="10" fill="#6e6e6e"/>
<rect x="112" y="423" width="10" height="10" fill="#595959"/>
<rect x="122" y="423" width="30" height="10" fill="#9e9e9e"/>
<rect x="152" y="423" width="10" height="10" fill="#6e6e6e"/>
<rect x="162" y="423" width="10" height="10" fill="#595959"/>
<rect x="172" y="423" width="10" height="10" fill="#424242"/>
<rect x="182" y="423" width="10" height="10" fill="#262626"/>
<rect x="192" y="423" width="10" height="10" fill="#424242"/>
<rect x="252" y="423" width="20" height="10" fill="#262626"/>
<rect x="272" y="423" width="10" height="10" fill="#6e6e6e"/>
<rect x="282" y="423" width="10" height="10" fill="#262626"/>
<rect x="302" y="423" width="10" height="10" fill="#262626"/>
<rect x="322" y="423" width="10" height="10" fill="#424242"/>
<rect x="332" y="423" width="10" height="10" fill="#595959"/>
<rect x="342" y="423" width="20" height="10" fill="#6e6e6e"/>
<rect x="362" y="423" width="10" height="10" fill="#595959"/>
<rect x="372" y="423" width="10" height="10" fill="#262626"/>
<rect x="432" y="423" width="10" height="10" fill="#262626"/>
<rect x="452" y="423" width="20" height="10" fill="#262626"/>
<rect x="492" y="423" width="10" height="10" fill="#262626"/>
<rect x="502" y="423" width="10" height="10" fill="#595959"/>
<rect x="512" y="423" width="10" height="10" fill="#424242"/>
<rect x="522" y="423" width="10" height="10" fill="#6e6e6e"/>
<rect x="532" y="423" width="10" height="10" fill="#595959"/>
<rect x="542" y="423" width="10" height="10" fill="#424242"/>
<rect x="552" y="423" width="20" height="10" fill="#262626"/>
<rect x="572" y="423" width="20" height="10" fill="#424242"/>
<rect x="592" y="423" width="10" height="10" fill="#262626"/>
<rect x="672" y="423" width="10" height="10" fill="#262626"/>
<rect x="682" y="423" width="10" height="10" fill="#424242"/>
<rect x="692" y="423" width="10" height="10" fill="#262626"/>
<rect x="702" y="423" width="10" height="10" fill="#6e6e6e"/>
<rect x="712" y="423" width="10" height="10" fill="#424242"/>
<rect x="722" y="423" width="10" height="10" fill="#595959"/>
<rect x="732" y="423" width="10" height="10" fill="#6e6e6e"/>
<rect x="742" y="423" width="22" height="10" fill="#595959"/>
<rect x="60" y="433" width="22" height="20" fill="#6e6e6e"/>
<rect x="82" y="433" width="10" height="20" fill="#858585"/>
<rect x="92" y="433" width="20" height="20" fill="#6e6e6e"/>
<rect x="112" y="433" width="10" height="20" fill="#424242"/>
<rect x="122" y="433" width="10" height="20" fill="#6e6e6e"/>
<rect x="132" y="433" width="10" height="20" fill="#858585"/>
<rect x="142" y="433" width="10" height="20" fill="#9e9e9e"/>
<rect x="152" y="433" width="20" height="20" fill="#6e6e6e"/>
<rect x="172" y="433" width="10" height="20" fill="#424242"/>
<rect x="182" y="433" width="30" height="20" fill="#262626"/>
<rect x="262" y="433" width="10" height="20" fill="#6e6e6e"/>
<rect x="272" y="433" width="10" height="20" fill="#262626"/>
<rect x="312" y="433" width="10" height="20" fill="#262626"/>
<rect x="322" y="433" width="10" height="20" fill="#424242"/>
<rect x="332" y="433" width="10" height="20" fill="#595959"/>
<rect x="342" y="433" width="10" height="20" fill="#6e6e6e"/>
<rect x="352" y="433" width="20" height="20" fill="#595959"/>
<rect x="372" y="433" width="10" height="20" fill="#6e6e6e"/>
<rect x="382" y="433" width="10" height="20" fill="#595959"/>
<rect x="422" y="433" width="10" height="20" fill="#262626"/>
<rect x="432" y="433" width="10" height="20" fill="#6e6e6e"/>
<rect x="442" y="433" width="20" height="20" fill="#262626"/>
<rect x="482" y="433" width="20" height="20" fill="#262626"/>
<rect x="502" y="433" width="10" height="20" fill="#6e6e6e"/>
<rect x="512" y="433" width="20" height="20" fill="#424242"/>
<rect x="532" y="433" width="10" height="20" fill="#595959"/>
<rect x="542" y="433" width="30" height="20" fill="#424242"/>
<rect x="572" y="433" width="20" height="20" fill="#595959"/>
<rect x="592" y="433" width="10" height="20" fill="#424242"/>
<rect x="602" y="433" width="30" height="20" fill="#262626"/>
<rect x="632" y="433" width="20" height="20" fill="#424242"/>
<rect x="652" y="433" width="20" height="20" fill="#262626"/>
<rect x="672" y="433" width="10" height="20" fill="#424242"/>
<rect x="682" y="433" width="10" height="20" fill="#262626"/>
<rect x="692" y="433" width="10" height="20" fill="#6e6e6e"/>
<rect x="702" y="433" width="10" height="20" fill="#858585"/>
<rect x="712" y="433" width="10" height="20" fill="#6e6e6e"/>
<rect x="722" y="433" width="10" height="20" fill="#595959"/>
<rect x="732" y="433" width="10" height="20" fill="#6e6e6e"/>
<rect x="742" y="433" width="22" height="20" fill="#595959"/></g></g>
<g clip-path="url(#mc)" fill="none" stroke="#000" stroke-width="1" shape-rendering="crispEdges"><path d="M72.0,196.3 74.8,196.5 78.6,197.5 83.2,199.8 85.1,200.9 87.5,202.7 90.2,205.2 91.7,207.0 94.2,209.0 95.9,209.8 98.4,210.8 100.1,213.4 101.8,215.2 103.7,217.7 105.4,219.8 109.6,221.8 112.8,224.4 114.3,224.6 115.1,226.9 114.1,229.2 112.8,226.4 110.3,225.9 111.3,229.7 111.7,231.5 111.9,234.6 111.5,237.2 110.7,240.2 111.3,242.8 110.9,246.4 112.2,249.9 113.8,252.5 114.9,253.0 115.1,254.5 116.2,256.1 118.1,258.9 118.9,261.2 121.9,262.2 123.6,263.0 124.8,264.0 126.1,266.0 127.4,269.1 128.6,272.2 130.1,274.2 132.4,277.5 132.6,279.3 135.0,281.6 136.9,285.2 138.1,287.0 140.9,290.6 142.3,290.6 140.7,287.8 139.8,286.2 138.3,283.2 136.6,280.1 135.4,277.0 133.7,274.2 131.6,271.4 131.2,268.3 133.9,269.1 135.4,271.7 136.6,274.7 138.5,277.3 140.2,278.8 142.3,281.9 143.4,283.7 145.5,285.7 148.0,289.3 149.7,291.8 151.0,294.9 150.4,297.5 152.3,300.3 154.4,302.1 157.8,303.9 160.5,305.6 162.6,306.7 166.0,308.2 169.8,309.5 172.5,308.2 174.6,308.5 176.8,310.2 178.9,312.5 181.4,314.1 184.6,315.4 186.7,315.9 188.6,316.4 190.3,317.9 192.0,320.5 192.6,322.0 192.4,324.0 194.5,324.8 194.9,325.6 196.8,327.6 198.3,328.6 200.4,328.6 202.5,329.9 204.0,330.9 204.6,329.7 205.7,326.9 207.4,327.6 208.4,328.4 208.0,329.9 209.3,331.2 210.1,334.3 210.1,339.4 209.1,342.7 207.2,345.0 205.5,347.0 204.4,348.3 203.6,350.9 204.0,353.2 202.9,354.7 204.2,356.2 205.0,358.0 203.8,358.8 201.9,361.1 202.3,364.4 203.4,366.2 205.5,368.8 206.7,370.8 208.2,374.4 210.7,380.0 212.4,384.9 214.5,388.7 217.3,391.3 220.9,393.3 223.0,395.1 225.1,396.9 225.3,400.2 225.5,404.3 224.9,409.9 224.5,414.8 224.0,419.4 223.0,423.7 222.6,427.5 222.4,431.4 222.1,433.9 221.5,436.5 221.1,440.3 M221.1,440.3 252.5,440.3 252.8,439.6 253.8,441.9 252.1,440.3 250.2,438.0 250.0,436.0 250.6,434.2 250.2,436.5 251.5,437.8 254.9,438.8 257.4,438.8 259.3,438.0 260.8,435.7 262.5,433.7 263.5,431.9 265.4,428.8 266.7,427.0 268.4,424.5 270.5,422.4 270.9,420.1 270.9,417.1 271.1,414.8 273.0,413.0 275.5,410.9 278.5,409.7 281.2,408.4 284.8,408.1 286.7,405.8 287.4,403.3 288.6,401.2 289.7,398.7 290.7,395.1 291.2,390.5 291.2,386.7 291.4,384.1 292.6,382.3 293.9,380.0 295.8,376.9 298.1,374.1 299.6,371.3 300.0,368.0 299.2,363.7 296.4,362.4 293.7,361.1 292.2,359.1 289.5,357.0 286.3,357.0 283.8,356.2 280.0,356.0 278.9,353.4 276.0,352.2 272.4,351.1 270.9,352.9 270.1,350.9 266.9,350.1 267.9,348.3 267.9,345.0 265.8,341.2 264.6,338.9 262.7,336.8 259.9,334.8 257.4,334.3 253.4,334.3 251.1,332.2 247.9,328.6 245.2,327.9 243.5,324.6 242.0,322.5 238.8,322.5 236.3,323.8 233.1,322.8 230.0,322.8 227.4,320.2 225.5,320.0 225.3,318.4 226.2,320.5 224.7,321.0 223.2,319.4 222.4,321.5 221.7,320.0 222.8,318.2 220.9,319.2 218.8,320.7 216.9,321.0 215.4,321.5 214.1,323.0 213.7,325.6 211.4,327.6 210.1,327.4 209.3,326.9 207.6,325.3 204.8,325.7 202.9,326.9 201.5,327.1 200.0,326.3 198.9,325.1 197.2,322.0 196.6,319.4 197.0,316.4 197.4,313.1 197.9,311.3 196.2,310.0 194.1,309.0 191.3,309.2 188.6,309.2 186.9,309.5 185.8,308.7 187.1,307.7 187.3,304.9 188.2,302.8 188.8,299.5 189.8,297.2 190.3,295.2 189.6,294.4 186.7,294.7 182.9,295.4 182.7,298.5 182.2,300.3 180.8,302.1 178.7,302.1 175.1,303.1 173.4,302.3 171.1,301.6 170.2,300.3 169.2,297.7 168.3,295.9 167.7,293.9 167.0,292.4 167.3,288.8 167.5,285.7 168.1,283.2 167.9,280.3 168.5,278.6 169.8,277.3 171.9,276.0 173.4,274.7 175.5,273.7 178.2,274.0 180.3,274.5 182.2,275.2 184.4,275.5 185.2,275.0 184.4,273.4 184.6,272.4 186.7,271.9 188.2,272.2 189.4,271.9 191.3,271.9 193.0,272.9 194.1,273.7 195.5,272.9 197.0,273.4 198.3,275.5 198.7,278.0 199.1,279.6 200.2,281.6 201.0,283.4 202.3,285.2 203.8,284.9 204.4,283.2 204.6,280.6 203.8,278.0 203.4,276.0 202.1,273.4 201.7,271.4 201.9,269.4 202.7,267.8 204.2,266.3 206.1,264.8 207.6,263.2 209.1,263.0 210.3,261.4 212.0,260.9 213.9,259.6 213.3,257.3 212.4,255.0 212.6,252.5 212.0,250.2 212.9,248.9 213.9,251.0 215.0,251.7 214.3,249.2 215.4,250.2 216.7,248.7 217.3,246.4 217.9,245.8 221.5,244.8 221.9,244.1 223.8,243.5 225.7,243.0 225.5,242.3 224.3,241.8 224.0,240.0 225.1,238.2 227.8,236.9 230.0,236.1 232.1,235.1 233.8,234.1 236.3,233.3 237.6,232.6 236.7,234.6 234.2,236.1 234.6,237.9 237.3,237.2 239.5,235.6 242.6,234.6 244.7,233.8 243.7,232.8 241.6,232.8 238.4,231.5 237.1,230.0 236.3,227.4 237.3,226.9 238.0,225.1 235.2,223.9 233.1,224.1 230.0,225.7 226.8,228.2 224.7,229.5 223.2,230.0 224.7,228.7 227.8,226.2 230.0,223.9 232.1,223.6 234.2,221.3 238.4,221.3 242.6,221.3 246.8,221.3 250.0,218.8 253.0,218.0 255.7,216.2 255.3,214.2 253.2,212.1 251.1,211.1 249.0,209.0 245.8,207.0 243.7,204.4 242.6,202.7 240.5,200.6 238.4,197.5 237.3,195.5 235.9,196.8 232.1,200.1 229.3,199.8 227.2,199.1 226.2,196.3 224.7,193.7 221.5,192.2 217.7,190.4 213.7,190.4 209.9,189.9 208.6,192.4 209.5,195.8 210.5,198.3 208.2,199.6 211.6,202.7 211.8,205.5 210.1,207.3 206.1,209.8 206.7,213.1 207.2,215.9 206.1,218.0 203.8,218.5 201.5,216.2 200.0,214.4 199.6,210.8 196.2,208.5 193.0,208.0 188.8,206.5 185.6,204.4 181.8,203.4 178.2,203.7 176.5,200.6 174.4,199.3 173.6,197.5 173.4,194.2 175.1,192.4 177.2,190.6 179.3,188.9 182.0,187.3 185.6,186.0 187.7,185.5 189.8,183.7 192.0,180.2 193.6,179.7 194.5,177.1 196.8,173.8 199.3,172.0 M189.8,171.7 185.6,173.8 182.5,174.8 179.3,173.8 174.0,175.8 171.5,177.1 169.8,175.1 165.6,176.3 161.3,176.3 157.1,176.3 152.9,175.6 148.7,174.3 144.5,175.1 145.5,176.3 141.9,176.1 136.0,176.6 131.8,176.3 129.7,176.8 131.8,175.1 128.6,173.8 124.4,173.3 121.2,172.2 M103.3,171.7 100.1,172.8 97.0,171.7 93.8,172.0 90.6,172.2 88.5,173.3 85.3,173.5 82.2,172.8 79.0,172.0 75.8,171.5 M242.6,171.7 238.4,175.8 242.6,178.4 241.6,179.9 237.3,182.2 235.2,184.8 237.3,187.8 235.2,191.2 233.1,190.4 230.0,188.6 230.4,190.4 226.8,189.1 223.6,188.1 220.5,186.0 218.3,184.8 215.2,184.8 209.9,185.3 212.0,183.5 216.2,182.5 218.3,179.7 221.5,177.6 218.3,175.1 215.2,173.3 212.0,172.0 M192.0,182.0 196.2,183.0 200.4,185.5 203.6,186.8 201.5,187.3 198.3,186.0 194.1,188.1 189.8,186.0 192.0,182.0 M265.8,171.7 265.4,173.8 261.6,175.1 260.6,178.4 261.6,180.9 263.7,183.5 264.8,186.0 267.3,188.6 269.0,191.2 271.1,193.7 274.3,194.5 277.4,195.5 280.6,196.5 282.1,195.8 283.8,193.7 284.8,191.2 286.9,188.1 288.4,185.3 291.2,182.2 294.3,181.7 298.6,180.2 302.8,177.1 307.0,175.3 314.4,173.8 319.7,171.7 M322.8,182.2 326.0,179.9 331.3,180.9 335.5,180.7 339.7,179.7 342.9,180.4 344.8,183.0 342.7,185.3 338.7,186.6 334.4,187.6 330.2,187.1 325.6,186.6 327.1,185.3 323.9,183.7 326.0,183.0 322.8,182.2 M248.3,228.0 251.1,225.7 249.0,224.9 251.5,221.8 253.6,219.3 256.3,217.7 255.9,221.1 255.3,223.1 259.5,223.1 261.6,225.4 260.6,228.2 262.3,228.2 261.2,230.3 259.1,230.0 256.3,229.5 252.1,228.0 248.3,228.0 M102.4,219.8 105.0,221.3 108.6,224.6 112.8,225.9 111.3,223.1 108.6,220.8 104.3,219.5 102.4,219.8 M194.3,293.6 196.2,291.6 198.3,290.9 200.4,290.3 203.6,290.6 206.7,291.8 209.9,293.9 213.1,295.4 216.9,298.0 214.1,298.7 209.9,298.7 210.3,297.0 208.2,294.7 205.7,294.4 203.6,293.4 201.5,292.9 199.3,291.8 197.2,292.9 194.3,293.6 M216.4,302.6 219.8,298.7 222.6,298.7 225.7,299.3 227.8,300.8 229.3,302.1 226.8,302.8 224.7,303.1 222.6,304.6 220.5,303.1 216.4,302.6 M208.2,302.6 212.6,303.3 211.4,303.9 208.2,303.1 208.2,302.6 M231.6,302.3 235.0,302.6 234.6,303.6 231.6,303.6 231.6,302.3 M242.8,322.0 244.7,322.0 244.7,323.8 242.8,323.8 242.8,322.0 M361.5,221.6 364.6,220.8 367.2,220.0 371.4,219.8 374.6,219.8 376.5,218.8 377.1,215.4 374.1,214.2 373.7,212.6 372.4,210.6 370.5,209.0 369.3,206.7 367.2,205.7 369.3,203.7 369.7,202.4 366.1,202.1 366.7,199.8 362.9,199.8 361.7,202.7 360.4,204.7 361.9,207.8 363.2,209.6 366.5,209.3 367.2,211.9 367.2,213.4 364.0,213.1 363.8,214.7 365.1,215.9 362.5,217.5 364.6,218.0 367.2,218.2 364.6,218.8 361.5,221.6 M360.8,216.2 360.6,213.1 360.8,211.6 361.9,210.3 360.8,208.5 358.3,208.3 356.0,208.5 355.3,210.8 352.4,211.1 353.0,213.4 352.0,216.7 353.4,218.0 356.2,217.2 360.0,216.2 360.8,216.2 M409.4,171.7 406.2,173.8 403.1,176.8 400.9,179.7 398.8,183.0 395.7,185.5 392.5,187.3 388.3,189.1 384.5,190.6 384.1,193.7 384.1,195.8 384.9,198.1 386.2,200.6 389.3,201.4 392.1,199.8 394.6,198.6 395.9,197.3 396.5,198.8 398.2,200.1 398.6,202.1 399.9,205.0 400.7,207.8 403.5,208.0 404.1,206.5 407.3,206.0 408.3,203.4 408.8,200.6 411.5,198.8 413.0,197.5 411.9,195.5 410.0,194.5 410.0,191.2 411.5,189.1 414.7,187.3 417.4,186.0 418.9,184.0 420.4,182.2 423.1,181.4 425.2,181.4 426.9,182.7 426.3,184.3 423.1,186.0 420.6,187.8 418.5,189.1 418.9,192.4 418.9,194.5 421.0,195.8 424.2,196.0 427.3,195.5 430.5,195.0 433.7,194.7 435.8,195.8 437.5,196.5 434.7,196.5 432.6,197.5 428.4,197.5 424.2,197.8 422.9,198.8 423.1,200.1 425.0,200.6 424.8,202.7 422.9,203.9 419.9,202.7 417.8,204.4 417.8,207.0 418.3,208.5 416.8,209.3 414.9,210.6 413.0,210.6 412.6,209.6 409.8,209.6 407.3,210.8 403.7,211.9 400.9,210.6 398.8,211.1 396.7,211.6 396.3,210.3 394.6,210.1 394.2,209.0 395.7,206.5 395.2,204.7 395.9,202.1 393.6,203.7 390.8,204.4 390.6,207.5 391.7,209.3 392.3,211.6 391.7,211.9 388.3,212.9 386.2,213.1 383.6,214.2 383.2,215.7 381.9,217.0 380.7,218.2 379.0,219.0 377.3,219.3 376.9,221.3 373.9,222.8 371.2,223.4 370.8,222.6 369.5,222.6 370.3,225.1 367.2,224.9 363.6,225.9 364.4,227.4 367.4,228.2 368.9,229.0 370.3,231.3 371.0,232.6 370.8,235.9 370.1,238.7 368.2,238.7 365.5,238.4 361.0,238.2 356.6,237.9 353.9,239.5 354.7,242.3 355.1,244.8 354.5,247.9 353.4,250.4 354.7,251.2 354.9,252.7 354.5,255.0 357.7,254.5 360.2,256.3 362.1,257.3 364.2,255.8 368.9,255.8 371.4,253.5 373.9,250.7 372.9,248.7 375.4,245.6 378.1,243.8 380.3,241.8 380.0,240.5 381.9,238.4 384.9,238.9 388.9,237.9 391.4,236.4 392.5,236.1 394.2,236.9 395.7,239.7 397.1,241.2 399.5,243.0 402.0,244.3 403.5,245.3 405.2,246.9 406.4,247.1 406.9,249.2 407.5,251.7 406.6,252.6 407.7,250.2 408.5,249.9 409.6,248.9 409.8,246.4 411.5,245.8 412.6,247.1 411.3,245.6 409.2,244.6 407.5,243.5 407.5,242.5 405.6,242.5 403.1,240.7 402.0,238.2 399.7,236.6 399.5,233.6 401.4,232.8 402.4,233.1 402.6,234.9 404.1,234.1 405.2,236.1 407.1,238.2 408.1,238.4 410.4,239.7 411.7,240.7 413.6,242.0 414.7,243.3 414.5,245.1 414.5,246.4 415.9,248.4 417.2,249.9 418.0,251.5 419.1,253.5 419.3,255.6 421.0,256.6 422.3,256.3 421.6,253.8 423.1,252.5 424.2,252.0 422.7,250.4 421.4,248.7 421.8,245.8 423.7,246.9 424.8,245.3 428.4,245.3 429.0,247.1 428.8,248.7 430.3,249.4 430.5,251.5 431.1,254.0 432.6,255.6 433.7,255.8 436.0,257.1 438.3,255.3 440.0,255.8 442.1,257.3 444.6,257.1 446.5,255.6 449.9,256.1 449.3,258.4 449.1,260.2 448.4,261.9 447.6,265.0 447.2,266.8 446.3,268.8 445.7,269.6 443.6,270.1 441.7,269.9 438.9,268.8 436.6,269.9 432.6,270.4 426.7,268.8 423.1,267.3 421.0,265.8 417.8,265.8 415.7,267.6 415.5,270.4 413.6,272.2 411.5,270.9 407.3,269.6 405.6,267.1 401.4,265.5 398.8,265.5 396.9,264.5 395.0,263.2 396.3,260.9 396.9,259.6 395.7,257.6 396.9,255.3 395.0,255.0 394.2,254.3 391.4,255.3 388.3,254.8 384.1,255.6 379.8,255.6 375.6,256.3 372.2,258.1 369.3,259.9 366.1,259.6 362.3,257.9 361.0,258.1 360.2,260.2 359.1,262.7 357.5,263.7 355.3,264.8 353.9,266.8 352.8,269.6 353.0,271.9 352.0,274.2 350.3,276.5 348.2,277.8 346.1,278.8 344.8,280.6 342.9,282.9 341.8,286.2 339.9,289.0 339.1,291.8 338.0,294.4 337.4,296.4 338.7,299.0 339.1,301.0 339.5,303.3 339.3,306.2 338.7,308.7 338.0,310.8 336.6,312.0 337.6,313.6 338.0,315.1 338.2,317.4 338.9,318.9 341.0,320.2 341.8,321.7 342.7,323.0 344.6,325.3 345.6,327.9 347.1,330.2 349.2,332.0 351.3,333.8 353.4,335.8 355.6,337.3 357.7,338.4 359.8,337.8 362.9,336.6 365.1,336.3 367.6,336.8 369.3,337.3 371.4,336.3 373.5,335.3 376.0,334.0 378.8,333.5 380.9,333.2 383.0,333.8 384.7,335.3 386.0,338.4 387.9,338.4 389.3,338.1 391.0,337.8 392.3,338.9 393.6,339.6 394.2,342.2 394.2,344.5 393.6,347.0 393.1,348.6 392.1,351.4 393.1,353.7 395.0,356.8 396.7,359.3 398.4,361.9 399.3,363.4 399.5,365.2 400.3,367.5 401.4,371.1 401.6,373.1 401.2,374.6 402.4,377.2 402.6,379.5 402.2,381.3 400.9,382.8 399.9,385.1 399.3,387.2 398.8,390.0 398.4,393.8 399.5,396.9 400.9,400.2 402.0,402.8 403.3,405.8 403.9,408.1 404.1,411.4 404.7,415.0 405.6,418.1 406.4,420.1 408.1,422.7 409.2,425.2 410.0,428.3 411.5,430.6 412.1,433.4 411.5,435.0 412.6,436.7 414.0,437.8 415.7,438.5 417.8,437.5 420.2,436.7 423.1,436.2 426.3,436.5 427.8,436.2 430.1,435.5 432.2,434.2 434.1,432.1 436.0,429.8 437.5,427.8 438.9,426.0 441.1,423.5 441.9,421.9 442.7,418.3 443.0,416.0 444.2,414.5 447.4,412.5 448.4,410.9 448.2,407.1 448.0,404.3 447.0,401.5 446.8,399.7 448.4,397.4 450.8,396.1 452.2,394.1 454.8,392.5 457.3,391.0 459.0,389.2 459.4,386.7 459.0,381.8 458.8,377.5 457.7,375.2 456.7,370.8 456.5,367.2 455.6,364.4 456.3,362.1 457.3,360.1 458.2,358.0 459.0,356.2 460.9,354.5 462.2,352.2 463.6,350.4 465.3,348.3 467.4,346.0 469.6,344.2 471.7,341.7 473.8,338.6 475.9,335.3 477.4,332.2 478.6,329.2 480.1,325.8 480.9,323.0 481.8,321.5 481.6,319.4 480.1,319.2 478.0,320.5 475.9,321.0 473.8,321.0 471.2,322.3 468.5,323.0 466.4,322.8 465.3,321.0 464.7,320.0 463.9,318.2 463.0,316.9 461.5,315.4 460.1,313.6 458.6,311.8 456.9,309.7 456.0,307.4 454.8,304.1 452.7,302.1 452.0,299.5 451.6,295.9 451.2,293.4 448.9,289.5 448.4,288.3 447.2,285.2 445.7,281.9 444.4,279.3 443.2,277.3 442.1,273.2 442.5,274.0 444.2,277.0 445.9,278.6 446.3,276.8 447.2,274.2 447.4,275.5 446.8,278.0 448.0,278.8 450.6,283.2 452.2,286.2 454.1,288.8 456.0,292.6 456.3,294.9 457.9,298.0 459.6,300.5 461.1,303.6 462.8,306.2 463.6,307.9 464.1,311.3 464.7,314.1 465.3,317.1 467.4,317.1 468.5,316.9 470.6,315.4 473.8,314.3 476.3,313.8 478.0,312.3 480.9,310.8 483.7,309.7 483.7,307.9 486.4,306.9 489.6,306.2 490.7,304.1 493.0,303.1 494.9,301.3 495.5,299.0 497.0,297.5 498.9,295.2 499.7,292.1 498.0,291.1 497.2,289.3 495.7,288.8 493.8,287.8 492.6,286.0 492.3,283.7 492.6,282.1 491.7,283.2 490.7,284.4 489.6,286.0 487.5,287.8 484.3,287.8 482.4,288.0 481.6,286.7 482.4,284.9 481.6,282.6 480.7,285.7 480.1,284.9 479.1,282.4 478.0,280.6 476.5,278.6 475.7,276.8 474.8,274.7 476.1,273.2 478.0,272.9 479.7,274.7 480.7,275.7 481.8,278.3 484.3,279.3 486.4,280.9 488.5,281.6 490.7,281.1 492.3,280.1 493.4,280.6 494.5,283.7 497.0,284.2 499.1,284.7 503.5,285.2 505.4,285.2 508.6,284.7 512.8,284.7 514.3,285.7 515.6,286.7 516.0,288.8 517.7,289.3 518.9,291.3 520.2,292.1 521.7,291.1 519.8,292.6 518.9,293.4 520.8,295.2 523.0,296.7 524.4,296.4 526.8,294.9 527.2,297.5 527.4,300.8 527.8,304.1 528.4,307.4 529.3,310.0 530.6,313.3 531.4,316.6 532.5,319.7 533.7,322.5 534.4,324.6 535.2,327.1 537.1,328.9 538.4,327.9 539.0,326.1 540.7,325.8 542.0,323.3 542.0,320.2 542.8,316.1 542.8,311.0 544.1,309.2 545.5,307.9 547.2,307.2 548.5,305.4 550.4,303.6 552.5,300.8 554.4,299.3 556.7,297.2 557.2,294.9 559.3,294.1 561.2,294.4 563.1,293.6 564.8,293.4 566.2,291.8 567.3,292.6 568.1,295.4 568.8,297.0 569.8,298.5 571.7,300.5 572.6,302.8 573.2,306.2 572.6,308.7 574.0,309.2 575.5,309.0 577.2,307.2 578.9,306.4 579.7,307.9 579.7,311.3 580.6,314.8 581.4,318.4 581.6,322.3 581.2,326.1 581.0,329.2 581.6,329.4 583.5,332.2 584.8,333.2 585.4,336.1 586.3,339.4 587.3,341.9 589.2,344.0 591.8,346.3 592.6,346.3 593.5,345.8 592.8,343.5 591.8,339.9 591.8,337.3 590.9,335.5 589.2,333.8 587.3,332.0 585.9,331.2 585.2,328.6 584.4,326.1 582.9,323.3 583.5,319.7 584.4,317.4 584.6,315.4 585.7,315.1 586.5,316.4 587.8,317.4 589.7,318.7 590.5,320.0 591.8,322.0 593.9,323.0 594.9,325.1 594.7,327.6 596.0,327.1 598.1,325.1 599.0,323.0 601.1,322.3 603.4,320.7 604.0,318.2 604.2,315.1 603.4,311.0 602.1,308.5 600.2,306.7 598.3,304.6 596.8,302.1 596.6,300.8 598.5,297.7 600.0,295.9 601.5,294.4 603.6,294.4 604.9,294.7 605.5,297.2 606.3,297.7 606.8,295.4 608.9,294.4 611.0,293.6 613.1,292.6 614.6,292.4 617.3,291.3 619.4,290.8 621.1,289.3 622.8,287.0 624.1,286.2 625.6,284.4 626.0,282.4 627.2,280.6 628.5,278.0 630.0,276.0 630.8,273.2 629.6,272.2 630.8,270.6 629.8,268.3 628.7,266.3 627.9,264.0 627.2,261.9 625.3,260.7 625.6,259.6 627.0,257.6 628.5,256.3 630.4,255.3 632.1,254.5 630.2,253.8 628.5,253.0 626.4,254.3 624.7,254.5 624.5,252.7 623.0,251.5 622.0,249.9 623.2,249.7 625.3,248.9 626.6,247.4 628.5,246.1 630.2,245.1 631.7,246.1 630.6,247.6 629.4,250.2 630.4,249.9 631.5,248.7 633.2,248.1 635.9,247.6 637.0,248.4 638.0,248.9 637.8,251.0 636.7,252.2 638.4,253.3 640.8,254.0 640.8,256.3 640.5,258.9 640.3,260.7 642.7,260.9 644.8,260.2 646.0,259.9 646.7,258.1 646.9,255.8 646.5,253.8 645.0,251.5 644.3,251.0 642.7,249.4 642.4,247.9 644.3,247.4 645.8,246.1 647.3,245.1 647.5,243.5 649.2,241.2 650.5,240.7 652.2,239.2 654.5,240.2 656.4,239.2 659.1,237.7 662.3,234.6 665.2,230.8 666.9,228.5 669.7,225.7 669.9,223.4 670.7,220.5 672.0,218.0 671.6,215.2 672.0,213.4 670.5,212.6 668.0,211.1 664.2,211.6 663.8,210.3 662.3,210.1 659.1,209.8 661.9,207.5 664.4,205.2 666.9,203.2 670.1,200.6 672.8,198.8 675.8,197.8 679.6,197.8 682.8,197.8 685.9,198.1 689.1,197.3 692.3,198.6 695.4,198.8 699.2,198.3 700.7,197.3 701.8,195.0 703.9,192.4 707.0,191.2 710.8,192.2 711.7,194.2 714.4,195.0 717.2,194.7 718.6,196.5 716.5,198.3 715.1,200.1 716.3,201.9 718.0,202.4 716.5,204.4 715.5,206.0 714.6,208.8 712.1,210.6 710.8,212.9 708.1,214.7 707.0,216.2 704.3,219.3 703.9,216.7 702.8,212.9 702.0,209.0 702.6,205.0 704.5,202.7 706.4,201.9 708.1,200.9 710.4,198.8 713.4,196.3 717.2,193.2 719.3,192.4 720.8,190.1 719.7,189.4 721.8,190.1 725.0,192.4 728.1,195.0 731.3,195.0 733.4,196.3 736.6,193.7 739.8,191.9 741.9,191.2 745.0,189.6 747.1,189.6 M747.1,184.5 745.0,184.0 741.9,184.3 745.0,183.0 747.1,182.5 M434.7,171.7 441.1,172.2 444.2,172.5 450.6,173.3 455.8,174.5 460.1,176.3 459.0,179.4 454.8,180.4 450.6,180.2 447.0,180.9 446.3,183.5 449.1,185.0 452.7,186.0 457.9,184.8 459.0,183.0 462.2,180.2 466.4,180.4 466.8,177.6 466.0,174.8 469.6,174.5 471.7,176.1 474.8,176.6 479.1,175.8 485.4,174.5 487.5,175.3 490.7,174.3 495.9,173.5 499.1,174.8 501.2,173.5 502.3,171.7 M512.8,171.7 514.9,174.0 517.5,175.3 519.2,173.5 518.1,172.0 522.3,171.7 526.5,173.3 526.8,175.8 528.7,178.9 530.8,177.1 531.8,174.5 530.8,171.7 535.0,171.7 537.1,174.3 539.2,175.1 536.0,176.3 539.2,178.4 542.4,178.4 543.4,175.8 542.4,172.2 M690.2,171.7 694.4,170.7 697.5,171.7 712.3,172.2 714.4,171.7 M728.1,171.7 732.4,172.0 733.4,173.3 736.6,172.0 742.9,172.0 747.1,171.5 M673.1,232.0 676.2,231.5 676.6,230.0 674.5,229.0 675.4,224.4 677.9,224.4 675.8,217.2 675.6,213.6 675.4,210.8 673.9,211.1 672.8,213.6 672.6,218.0 673.3,221.8 673.3,226.9 673.1,232.0 M669.0,243.5 671.6,242.8 672.6,240.7 676.0,242.3 678.1,239.7 680.7,238.9 679.6,236.6 676.6,236.6 673.1,233.3 672.4,236.1 671.8,239.2 669.7,239.2 669.9,241.8 669.0,243.5 M672.0,243.8 672.2,246.6 673.3,249.2 672.2,251.7 670.9,254.3 670.7,257.6 670.7,258.4 669.0,260.2 668.6,259.1 667.1,259.6 666.5,261.2 665.2,261.2 662.7,261.2 662.3,262.2 660.2,264.0 658.7,261.9 656.8,260.9 654.3,261.7 652.2,263.0 649.8,262.7 650.0,261.7 651.7,260.9 653.4,259.1 655.3,258.9 658.1,258.6 660.6,257.9 662.1,255.6 662.5,254.3 663.3,255.0 665.9,253.8 667.8,252.0 668.6,249.9 669.0,247.9 668.8,245.8 669.7,244.6 672.0,243.8 M649.8,263.0 651.5,264.8 651.5,267.8 650.3,269.9 649.2,270.4 648.4,269.4 648.4,266.0 647.3,264.5 649.0,263.2 649.8,263.0 M653.2,264.5 654.3,266.0 656.8,264.5 657.9,262.7 655.3,261.9 653.4,262.7 653.2,264.5 M627.0,290.8 628.3,293.4 628.9,292.1 630.0,290.1 630.8,286.2 630.0,284.9 628.7,286.0 627.2,289.0 627.0,290.8 M602.8,300.8 604.7,303.1 606.8,301.8 607.8,299.3 606.8,298.2 605.1,298.5 603.0,299.3 602.8,300.8 M628.1,302.3 631.5,302.3 631.9,306.2 630.2,309.2 630.2,312.8 631.5,313.6 633.6,314.3 635.3,316.1 635.5,317.4 634.2,316.9 632.3,314.8 629.8,314.3 628.3,313.1 628.7,312.0 627.5,311.0 626.6,308.2 627.7,307.2 627.7,304.6 628.1,302.3 M631.0,331.7 632.5,329.9 634.2,329.7 634.8,327.6 636.7,327.9 638.4,324.6 640.1,326.3 640.5,330.4 639.9,333.5 638.2,335.3 637.6,334.3 635.7,333.5 635.1,331.2 632.9,330.9 631.0,331.7 M635.9,317.7 638.9,317.7 638.6,321.0 637.4,323.5 636.1,322.3 637.2,320.5 635.9,317.7 M631.0,319.4 633.2,320.5 632.9,322.8 631.0,322.8 630.8,320.7 631.0,319.4 M633.2,321.7 634.2,323.3 633.6,326.3 632.3,325.3 631.9,322.5 633.2,321.7 M635.3,320.7 635.3,323.0 634.0,325.3 634.6,323.0 635.3,320.7 M620.9,328.1 623.0,325.8 625.3,322.8 626.0,320.5 625.8,322.8 624.3,324.8 621.8,327.9 620.9,328.1 M627.5,315.1 630.0,315.6 629.6,318.2 628.1,317.7 627.5,315.1 M603.6,345.8 604.9,344.5 606.3,345.3 608.2,344.7 608.9,343.0 612.0,341.4 614.2,338.1 616.3,336.8 617.5,335.3 619.0,333.8 620.1,331.7 621.8,333.0 622.8,334.8 625.3,336.3 623.2,338.1 622.2,339.1 622.0,341.4 622.6,343.7 622.4,345.8 624.5,347.0 623.0,348.3 621.8,350.9 621.3,351.9 620.1,352.9 619.0,354.2 619.4,357.3 618.4,358.8 616.3,359.8 615.2,358.5 613.1,357.8 611.0,358.3 609.3,357.3 607.8,357.3 606.1,357.0 605.7,354.2 604.2,352.2 603.8,350.1 603.6,348.3 603.6,345.8 M574.7,335.3 577.2,336.3 579.3,336.3 581.0,338.6 582.1,340.1 584.0,341.7 585.4,344.0 587.3,344.5 588.8,346.0 590.9,347.3 592.6,349.6 592.2,351.6 594.1,352.7 594.9,355.5 596.6,356.8 597.5,358.5 596.8,361.1 597.1,364.4 595.8,364.4 594.3,364.7 593.0,363.1 590.9,361.1 589.5,359.6 587.3,356.8 586.3,354.2 585.2,351.9 584.0,349.6 582.7,347.0 581.9,345.3 579.7,343.7 578.5,341.2 577.2,339.4 575.3,337.6 574.7,335.3 M595.6,367.0 597.3,364.9 599.0,364.9 600.6,365.4 602.5,366.0 604.7,367.0 606.6,367.2 607.8,366.2 609.9,367.2 611.4,368.0 613.1,368.8 615.0,369.3 615.2,371.6 613.1,371.1 609.9,370.8 607.2,370.3 604.7,369.5 601.9,369.3 599.4,368.5 597.3,368.3 596.0,367.2 595.6,367.0 M615.2,370.3 617.7,371.1 616.7,372.1 615.2,371.1 615.2,370.3 M618.4,371.1 620.5,370.8 623.7,370.8 624.7,371.3 622.6,372.3 620.1,372.6 618.4,372.1 618.4,371.1 M626.4,371.3 628.9,371.1 632.7,370.6 632.1,371.8 628.9,372.3 626.4,372.1 626.4,371.3 M624.7,373.6 628.5,374.6 627.9,375.9 624.7,374.6 624.7,373.6 M634.2,375.9 636.3,373.4 639.5,371.3 642.2,371.1 640.5,372.3 637.4,374.4 635.3,375.7 634.2,375.9 M625.6,363.9 627.7,363.9 627.5,359.8 627.9,357.0 629.1,356.5 630.2,359.3 631.0,361.9 632.5,363.4 633.6,361.4 632.3,360.3 631.5,357.8 630.2,356.0 629.6,354.2 631.5,352.2 633.8,351.9 632.7,351.1 630.2,351.6 628.1,352.9 627.2,351.1 627.5,348.8 630.0,348.3 632.7,348.3 635.3,348.6 637.2,346.3 637.8,345.5 636.3,347.0 633.2,347.3 628.9,346.8 626.8,347.6 626.4,349.6 625.8,351.4 624.5,355.0 624.3,357.3 625.6,358.5 626.0,361.1 625.6,363.9 M642.7,344.0 643.7,346.5 645.2,347.0 644.1,348.3 645.4,349.1 643.5,350.4 644.6,351.9 642.7,350.6 642.9,347.6 642.7,344.0 M643.7,357.3 646.9,356.8 649.6,357.8 649.0,358.8 645.8,358.5 643.7,358.0 643.7,357.3 M639.3,357.8 641.2,357.3 642.0,358.5 640.1,359.3 639.3,357.8 M650.0,352.9 651.7,351.6 653.2,350.6 655.3,351.4 656.6,351.9 657.0,355.2 658.5,358.0 660.0,357.0 661.2,355.5 663.8,353.7 666.3,354.2 669.0,355.7 670.5,356.0 672.8,357.0 675.4,358.0 677.9,359.3 680.2,361.1 681.3,362.9 683.0,364.7 684.9,365.7 685.5,366.7 684.2,368.8 685.9,370.6 687.2,372.9 689.1,374.6 691.2,375.9 690.2,376.7 688.0,375.9 685.1,375.2 684.2,373.9 682.8,372.1 681.1,369.8 678.5,369.0 677.1,370.0 676.2,372.6 674.5,373.4 672.2,373.1 670.7,372.6 669.3,370.6 667.4,370.3 665.2,371.1 665.0,368.8 666.5,367.0 665.2,363.9 662.7,362.4 658.9,360.8 656.8,359.8 654.9,359.8 653.8,358.5 652.2,357.0 654.3,355.7 652.8,355.5 650.7,353.7 650.0,352.9 M686.6,363.7 689.7,363.9 691.2,363.4 693.3,362.1 694.8,360.6 694.4,363.7 692.3,365.2 690.2,365.4 686.6,364.4 686.6,363.7 M691.8,356.5 694.4,357.8 696.5,361.1 696.1,361.9 693.9,359.6 691.8,357.0 691.8,356.5 M699.9,363.4 701.8,364.9 702.8,367.0 701.1,366.5 699.9,364.4 699.9,363.4 M704.9,370.0 707.5,371.6 709.1,372.6 711.3,373.9 712.9,374.9 714.4,375.7 712.3,375.2 709.8,374.1 707.0,372.3 704.9,370.0 M712.3,371.1 714.2,373.6 713.4,373.6 712.3,371.1 M725.0,387.2 726.5,389.2 726.0,390.2 725.2,388.7 725.0,387.2 M728.6,390.5 729.2,392.0 728.4,391.8 728.6,390.5 M728.1,394.6 729.2,395.1 728.6,395.6 728.1,394.6 M719.7,401.0 722.4,403.0 725.0,405.6 726.0,406.8 724.6,406.6 721.8,404.8 719.7,402.0 719.7,401.0 M612.5,440.3 616.3,437.3 617.7,435.2 617.7,431.9 617.1,429.3 616.3,426.8 616.1,423.7 614.6,421.2 613.3,417.3 612.9,414.8 613.9,415.8 614.2,412.2 613.1,409.7 613.7,406.6 614.6,405.3 615.4,405.8 617.3,404.3 619.9,402.2 622.0,402.5 623.9,401.5 625.8,400.7 628.9,399.4 630.4,397.1 631.5,395.6 631.7,393.6 632.9,391.5 634.2,392.8 635.7,391.0 636.7,389.2 638.4,386.9 639.9,385.9 641.4,384.9 643.1,386.1 644.1,387.7 645.4,387.4 646.7,387.7 647.3,385.6 647.7,383.8 648.6,382.6 649.6,381.3 651.1,380.8 653.2,380.5 653.4,379.0 655.3,379.8 657.4,380.3 659.5,380.8 661.2,380.0 662.5,381.0 661.7,383.3 660.4,383.8 660.4,385.6 659.3,387.4 660.6,389.0 662.3,390.2 664.4,391.8 666.5,393.6 668.0,394.3 670.1,394.6 671.2,393.0 672.0,390.5 672.4,387.9 672.4,384.9 672.4,381.8 673.3,379.0 674.3,376.9 675.0,378.5 675.4,381.5 676.4,383.8 676.9,386.1 678.5,386.1 680.2,387.9 680.4,390.5 681.5,392.8 681.9,395.1 682.3,397.9 684.9,399.2 687.0,401.2 687.8,402.8 689.1,404.5 690.2,406.3 691.8,407.1 692.3,409.7 694.2,411.7 695.6,414.0 696.7,415.8 696.7,419.4 697.5,421.7 697.7,424.5 696.7,427.0 696.5,429.3 695.6,431.6 694.4,433.4 693.3,434.7 692.7,436.5 692.0,438.3 691.4,440.3 M618.8,440.3 621.1,439.0 623.2,438.5 625.8,437.0 627.9,436.2 630.8,436.0 634.2,436.2 635.5,434.4 637.4,433.2 640.5,432.1 643.7,430.6 646.9,430.4 650.0,430.1 653.2,431.4 655.3,432.1 656.8,433.7 658.3,435.2 659.5,437.5 660.2,439.0 660.8,437.8 661.7,436.0 663.3,434.4 664.6,433.9 664.6,436.5 663.8,438.8 663.6,440.3 M664.8,440.3 664.4,438.8 665.5,438.0 665.9,439.8 665.7,440.3 M737.9,437.5 739.1,438.5 740.8,439.8 741.7,441.1 M737.9,437.5 738.3,439.0 739.3,440.3 739.8,441.1 M542.0,324.6 543.0,324.6 544.5,327.6 546.2,330.7 545.8,333.0 543.6,334.5 542.4,333.0 542.0,329.7 542.2,327.1 542.0,324.6 M477.6,380.3 479.1,384.1 479.9,387.9 479.1,390.2 478.2,392.5 477.6,395.3 476.3,400.2 474.8,405.8 473.6,410.9 472.7,413.7 469.6,415.0 467.7,414.3 466.4,412.2 465.5,409.7 464.9,405.8 466.2,403.8 467.0,400.7 467.2,397.9 466.4,394.3 467.2,391.5 469.1,390.5 471.0,390.0 473.1,387.9 474.4,386.1 475.5,384.6 476.5,382.3 477.6,380.3 M486.0,317.4 488.5,317.4 487.7,318.2 486.0,317.4 M399.7,252.2 401.6,252.0 404.1,252.5 406.4,251.7 405.6,253.8 405.4,255.8 403.7,255.6 399.9,253.5 399.7,252.2 M391.2,249.9 392.5,249.9 393.8,249.4 394.2,246.1 393.6,244.6 392.1,244.6 390.8,245.1 391.4,246.9 391.2,249.9 M391.7,243.5 392.9,243.8 393.6,241.8 393.3,239.7 391.9,240.7 391.7,243.5 M423.1,259.4 425.2,259.1 429.0,259.4 428.4,260.2 425.2,260.4 423.1,259.4 M441.7,260.2 443.2,259.1 446.5,258.4 445.3,260.2 443.2,261.2 441.7,260.2 M432.4,242.3 433.9,238.4 433.9,236.4 436.2,234.3 436.2,232.8 438.3,230.8 440.0,230.5 442.1,231.8 444.2,232.0 442.1,233.6 444.2,235.9 446.3,235.6 448.4,234.3 450.6,233.8 451.0,233.3 453.7,232.0 454.8,229.2 456.3,229.0 454.8,230.0 452.7,230.5 452.2,231.8 453.7,232.8 453.3,233.8 451.0,234.1 452.2,235.1 454.4,236.4 456.9,237.7 458.6,239.2 461.1,240.7 461.3,243.3 459.0,244.8 456.9,244.8 454.8,245.1 452.7,244.6 450.3,244.1 448.4,243.0 446.3,242.3 444.2,242.3 442.1,242.8 440.0,244.3 437.9,244.6 435.1,244.3 433.7,243.5 432.4,242.3 M429.4,246.1 431.6,245.1 434.7,244.8 434.9,245.8 432.6,246.4 430.9,246.4 429.4,246.1 M472.7,235.9 473.8,232.8 475.9,231.3 478.0,230.5 482.2,229.5 485.4,230.3 485.6,233.8 481.8,235.9 480.9,237.2 481.8,239.2 484.5,242.3 485.0,244.1 487.5,244.8 485.4,246.4 486.4,248.7 487.1,251.2 487.5,254.3 485.4,255.3 482.2,255.6 479.1,254.3 476.9,253.5 476.7,251.2 477.8,248.9 478.2,246.6 476.9,244.3 475.7,242.5 474.0,240.2 473.8,238.2 472.7,235.9 M496.4,233.3 498.7,232.3 500.8,231.0 502.3,232.0 501.2,234.1 499.1,235.9 497.0,235.1 496.4,233.3 M528.7,232.6 531.8,230.8 536.0,230.8 540.3,230.5 540.7,231.5 537.1,232.3 532.9,232.6 529.7,234.1 528.7,232.6 M592.6,217.7 596.2,217.5 600.4,215.2 603.6,212.1 605.5,207.3 604.2,207.8 601.9,212.1 598.1,214.4 594.1,216.2 592.6,217.7 M179.1,230.3 182.5,230.5 186.7,229.0 188.8,230.8 192.0,230.5 194.9,230.8 194.5,227.4 190.9,225.1 187.1,224.9 184.6,226.9 179.1,230.3 M188.2,242.3 188.8,238.4 188.6,234.6 190.9,232.6 194.1,232.0 196.2,232.0 198.3,232.3 201.0,231.8 203.6,232.6 204.6,235.1 202.1,237.2 201.0,238.9 199.3,239.7 199.3,237.7 197.2,237.2 197.7,234.6 194.9,232.6 194.1,234.6 191.3,235.9 191.1,238.4 191.5,242.3 189.8,243.3 188.2,242.3 M197.2,243.0 201.5,243.3 205.0,241.5 206.9,240.0 203.6,240.7 200.4,242.0 197.2,243.0 M205.0,238.9 208.8,238.7 212.4,238.4 212.0,236.6 208.8,237.4 205.7,237.9 205.0,238.9 M168.3,220.8 169.8,218.5 167.7,214.2 164.9,212.1 166.2,215.4 168.3,220.8 M440.6,350.4 443.2,348.8 445.3,350.1 446.3,352.2 444.9,355.2 443.2,356.0 440.6,354.5 440.6,350.4 M435.1,358.0 435.8,361.1 436.8,364.9 438.5,368.0 439.2,371.6 438.1,371.3 436.2,367.0 435.6,363.7 434.9,359.8 435.1,358.0 M445.3,373.9 446.3,376.4 446.1,380.3 447.0,384.1 447.8,386.1 446.5,384.9 445.9,381.5 445.3,377.7 445.3,373.9" stroke-width="1"/>
<path d="M113.6,224.4 172.5,224.4 172.5,223.4 173.8,225.1 177.2,225.4 181.4,226.4 184.4,226.9 186.9,226.2 192.0,228.2 194.9,230.8 197.0,231.8 199.6,233.8 199.6,239.7 198.1,241.5 199.3,242.8 202.5,241.5 206.7,240.2 206.7,238.9 211.0,238.2 212.4,236.6 215.8,234.6 222.6,234.6 224.3,233.6 225.7,230.3 227.4,228.5 229.5,228.7 230.4,229.2 230.4,232.8 231.6,234.1 M75.8,171.7 75.8,195.5 80.1,195.5 83.2,198.3 87.5,196.8 91.7,200.1 94.8,203.9 99.1,206.5 99.1,209.0 M126.3,266.5 131.4,266.0 139.2,269.6 145.1,269.6 145.1,268.3 148.7,268.3 151.8,271.1 152.9,274.0 156.1,275.5 157.5,273.4 159.4,273.4 161.8,277.3 163.5,279.3 164.3,282.1 168.3,283.4 M111.7,231.5 113.8,231.8 118.1,232.9 122.3,232.0 126.7,232.0 M126.4,224.4 126.4,231.0 126.7,232.0 M126.7,232.0 127.6,233.3 126.5,236.4 126.4,242.3 M111.3,242.3 139.1,242.3 M120.2,242.3 120.2,249.9 131.6,260.2 M131.6,260.2 131.8,261.9 131.4,266.0 M128.5,224.4 128.5,227.2 130.7,228.7 132.2,230.5 133.3,233.1 135.4,236.1 139.1,235.9 M139.1,235.9 139.1,234.6 153.9,234.6 M139.1,242.3 139.1,244.8 153.9,244.8 153.9,234.6 M139.1,242.3 139.1,235.9 M132.7,242.3 132.7,255.0 M132.7,255.0 173.8,255.0 M143.3,244.8 143.3,269.6 M158.1,244.8 158.1,255.0 M156.1,255.0 156.1,267.8 148.5,267.8 M156.1,256.3 162.4,256.3 162.4,261.2 166.6,262.7 170.8,263.2 174.0,263.7 174.2,259.1 173.8,255.0 M153.9,224.4 153.9,234.6 M153.9,232.3 169.6,232.3 M153.9,239.7 165.6,239.7 169.8,241.0 M153.9,244.8 158.1,244.8 158.1,247.4 172.3,247.4 M169.8,241.0 170.8,243.5 171.3,245.8 172.3,247.4 M168.3,224.4 169.6,232.3 169.8,238.4 181.0,238.4 M171.3,245.8 180.6,245.8 181.2,243.5 183.1,241.8 181.0,238.4 M173.8,255.0 173.8,249.7 172.3,247.4 M173.8,256.3 183.3,256.3 184.6,256.3 M175.1,265.3 181.0,265.3 M175.1,263.7 175.1,273.7 M181.0,238.4 181.2,243.5 180.6,245.8 183.1,250.7 184.6,255.0 184.6,256.3 183.3,260.2 181.4,262.7 181.0,265.3 181.4,267.3 180.1,270.4 184.1,270.4 184.4,272.4 M179.1,230.3 177.6,233.1 178.7,235.6 181.0,238.4 M182.2,241.0 188.2,241.0 M182.7,230.5 187.3,232.0 188.6,234.3 M188.8,243.0 188.8,249.9 187.7,253.0 M194.5,243.0 194.5,249.7 M188.8,243.0 197.2,243.0 M185.4,255.0 187.7,253.0 189.8,252.7 192.4,252.5 194.5,249.7 198.3,250.7 199.1,251.5 200.6,248.7 203.4,245.8 M203.6,242.3 203.6,248.1 213.5,248.1 M203.6,242.3 205.0,242.3 214.3,242.3 215.8,243.8 217.3,244.8 M184.6,256.3 201.0,256.1 213.3,256.2 M182.9,260.2 195.5,260.2 198.1,260.2 M187.3,260.2 186.9,270.4 186.9,271.9 M192.8,260.2 193.9,267.1 194.1,270.4 188.6,270.4 M194.1,270.4 194.3,271.1 200.0,271.4 201.5,271.1 M198.1,260.2 199.6,261.4 202.5,267.6 M198.1,260.2 202.7,259.9 205.3,260.7 207.8,263.0 M201.0,254.5 204.0,253.8 205.7,251.2 208.0,249.4 209.5,249.2 M205.7,248.1 205.7,249.4 208.0,248.4 211.0,250.4 M218.8,234.6 218.8,240.5 218.3,244.3 M222.6,234.6 220.5,238.4 220.5,240.5 218.8,240.5 M223.4,233.8 223.6,239.2 224.3,239.5 M218.3,242.0 221.9,242.3 222.8,243.8 M178.9,312.5 179.3,311.3 178.9,310.5 179.9,308.5 182.7,308.5 182.7,304.1 185.3,304.1 187.1,302.3 M185.3,304.1 185.2,309.0 M185.2,309.0 187.3,309.5 M184.9,312.8 183.3,314.6 M185.2,311.3 184.9,312.8 186.7,313.8 188.2,315.4 M188.8,316.4 192.0,313.8 194.1,311.8 197.9,311.3 M192.6,321.2 196.2,322.0 196.8,321.7 M198.5,329.2 199.1,325.1 M210.5,329.4 210.1,327.4 M221.7,320.0 220.5,321.2 220.7,329.2 223.6,331.7 231.0,333.8 231.4,339.4 230.4,342.4 232.1,346.5 M232.1,346.5 226.8,347.0 227.0,352.7 225.9,360.3 M225.9,360.3 219.4,355.7 214.8,349.9 M214.8,349.9 211.0,348.6 207.2,346.0 M214.8,349.9 213.9,353.4 209.5,357.0 208.2,358.5 205.7,361.1 204.0,358.3 M232.1,346.5 234.2,347.3 238.4,345.8 239.5,340.7 240.9,339.4 244.7,338.1 245.4,336.3 M245.4,336.3 243.9,334.5 246.8,327.9 M245.4,336.3 247.3,338.1 247.3,346.3 250.0,346.3 254.2,344.7 M254.2,344.7 252.8,334.5 M258.5,343.7 259.5,335.0 M254.2,344.7 258.5,343.7 262.7,343.7 264.6,338.9 M225.9,360.3 221.5,362.4 219.4,368.3 217.3,368.8 219.4,373.6 220.7,375.2 224.5,377.7 226.8,377.7 M226.8,377.7 228.5,381.5 227.8,385.9 227.0,388.4 227.8,391.0 226.8,394.3 224.9,396.5 M226.8,377.7 230.0,376.9 235.4,374.4 237.3,380.3 243.7,384.1 245.8,384.9 246.4,391.0 250.2,391.3 250.6,394.3 251.9,396.1 M251.9,396.1 248.7,398.9 243.0,402.2 241.4,406.3 M241.4,406.3 237.6,407.6 234.6,406.1 231.6,407.9 M226.8,394.3 228.9,398.2 229.5,404.5 231.6,407.9 M231.6,407.9 232.1,410.9 228.9,413.5 228.7,418.6 226.6,422.4 225.7,426.3 225.5,431.4 225.7,435.2 225.1,440.3 M251.9,396.1 252.1,400.7 251.1,405.8 255.9,407.4 257.4,410.9 258.9,411.2 258.2,415.0 M241.4,406.3 244.7,410.4 250.0,414.0 251.9,414.8 255.3,419.4 258.2,415.0 M258.2,415.0 259.9,416.0 260.4,419.1 255.7,421.7 251.9,426.8 M251.9,426.8 255.3,428.8 260.6,432.7 260.8,435.7 M251.9,426.8 250.6,433.9 250.2,436.5 M369.7,260.2 369.9,265.3 365.9,268.8 362.9,271.7 355.1,276.3 355.1,278.8 345.6,278.8 M355.1,279.8 355.1,283.2 348.2,283.2 348.2,289.5 345.8,290.8 346.1,295.2 337.6,295.2 M355.1,279.8 363.4,285.7 359.8,285.7 361.9,307.4 349.4,309.7 347.7,312.0 M338.7,308.2 343.3,307.2 347.7,312.0 349.4,317.9 344.6,317.1 338.2,317.9 M338.0,314.8 344.4,315.1 344.4,315.6 338.2,315.9 M344.6,317.1 344.6,318.9 341.8,321.7 M345.4,326.3 348.2,324.0 350.9,325.8 351.8,327.9 349.2,332.0 M349.4,317.9 354.5,318.4 356.0,322.8 356.2,328.6 355.3,329.9 357.7,338.4 M351.8,327.9 353.4,330.7 355.3,329.9 M356.0,322.8 361.9,323.0 362.3,321.2 364.0,318.2 369.3,312.5 373.9,311.5 376.2,310.5 380.9,310.2 382.4,307.4 382.4,300.8 M362.3,321.2 367.6,325.1 367.4,336.8 M367.6,325.1 367.6,321.5 373.5,321.5 375.4,321.5 378.6,319.2 381.1,319.7 M373.5,321.5 374.8,329.2 376.0,334.0 M375.4,321.5 376.9,326.6 376.9,333.8 M373.9,311.5 376.7,315.1 378.6,319.2 M363.4,285.7 376.0,295.9 382.4,300.8 385.7,300.0 398.8,289.5 M391.4,255.3 390.8,261.2 389.3,263.2 392.5,267.6 393.6,272.4 395.0,286.2 397.8,287.5 398.8,289.5 M397.8,264.8 395.2,268.6 394.6,272.4 393.6,272.4 M426.3,268.8 426.3,293.4 424.2,298.5 424.2,299.8 405.2,290.8 402.0,290.8 398.8,289.5 M426.3,293.4 451.4,293.4 M381.1,319.7 382.4,315.1 388.3,316.4 393.6,316.6 400.9,315.1 402.2,314.8 M405.2,290.8 406.2,296.4 406.2,306.2 402.2,314.8 M379.2,333.2 379.4,326.6 381.1,319.7 M391.7,337.6 393.6,333.0 396.7,333.0 398.8,329.2 402.0,324.0 404.3,318.9 403.5,316.4 402.2,314.8 M403.5,316.4 405.2,321.5 406.2,325.3 406.2,330.4 404.1,334.3 405.2,339.4 407.3,344.0 M394.2,343.7 397.4,344.0 401.6,344.0 407.3,345.3 407.3,344.0 M397.4,344.0 401.6,344.0 402.0,352.2 401.6,355.2 397.8,356.0 397.1,359.6 M406.2,330.4 412.6,327.1 418.9,325.3 421.6,321.7 M424.2,299.8 419.9,310.0 421.0,313.8 419.9,317.7 421.6,321.7 423.1,324.3 M407.3,344.0 412.8,340.7 412.8,338.6 416.8,338.4 421.0,337.6 426.3,336.8 431.6,336.8 438.7,340.4 M423.1,324.3 426.3,330.4 431.6,336.8 M412.8,340.7 410.9,347.0 408.3,353.4 407.1,358.5 405.8,360.6 399.3,364.4 M445.7,325.3 445.3,329.2 447.4,330.4 449.3,337.8 M445.7,325.3 447.8,322.3 450.6,313.1 M450.6,313.1 451.6,306.2 454.8,303.6 M463.0,317.7 461.7,320.2 464.1,321.5 464.9,325.1 466.4,326.6 474.6,329.2 468.3,337.1 462.2,339.4 460.1,339.6 M460.1,339.6 456.9,340.9 453.7,340.4 449.3,337.8 445.3,338.9 M460.1,339.6 460.1,353.7 461.1,353.9 M445.3,338.9 447.4,344.7 445.5,349.1 445.1,349.6 M445.1,352.2 452.9,357.3 456.3,361.6 M438.7,340.4 445.1,339.9 445.3,338.9 M438.7,340.7 436.0,349.6 436.0,353.2 437.9,352.4 438.5,352.2 445.1,352.2 M436.0,353.2 434.7,356.8 435.1,358.0 437.9,355.7 438.5,352.2 M399.3,364.4 408.3,364.9 410.7,370.0 414.5,370.0 419.5,368.3 419.9,373.9 424.2,377.7 424.2,382.8 419.9,382.8 419.9,391.8 422.9,394.6 M398.4,393.8 402.0,393.0 412.6,394.1 417.8,395.6 422.9,394.6 426.9,395.1 M424.2,377.7 427.3,378.2 431.6,380.3 433.7,372.6 437.9,370.6 M437.9,370.6 443.2,373.4 444.2,375.2 443.6,380.3 442.5,384.9 437.3,386.7 432.6,390.5 428.4,395.3 426.9,395.1 M426.9,395.1 431.1,401.2 435.6,406.3 439.6,406.8 443.0,403.3 442.5,398.2 443.2,392.3 437.7,389.5 M458.8,376.2 453.7,378.5 447.4,379.0 446.5,385.4 448.0,392.5 443.2,392.3 M437.9,370.6 435.8,364.9 435.1,358.0 M415.7,396.1 415.7,405.8 415.7,413.0 415.7,422.4 408.3,422.7 M415.7,413.0 421.6,414.8 427.3,414.8 430.5,409.9 435.6,406.3 M440.8,415.8 441.1,412.2 439.6,406.8 M430.5,425.2 432.6,422.9 435.6,424.5 434.7,426.8 432.6,427.8 430.5,425.2 M445.7,269.6 447.2,274.2 M448.7,264.8 448.4,270.4 447.4,274.2 M449.1,266.0 455.8,267.1 451.6,270.4 453.7,272.9 450.6,275.0 447.4,274.5 M455.8,267.1 460.1,261.7 460.7,256.3 463.0,254.8 M449.5,257.9 451.0,255.6 453.7,255.6 457.9,255.6 463.0,254.8 M463.0,254.8 468.1,254.5 469.6,258.9 470.6,265.3 474.2,270.4 475.9,272.9 M455.8,267.1 462.2,270.4 467.9,275.0 471.7,275.2 474.2,276.8 475.7,276.8 M463.9,307.7 466.4,305.1 473.8,306.2 483.3,301.0 489.6,298.5 491.1,293.4 490.0,291.6 484.5,291.1 482.4,287.5 M483.3,301.0 483.7,307.2 M461.3,243.5 465.3,244.6 468.1,248.1 467.4,249.9 467.0,254.5 M468.1,248.1 471.7,250.2 474.8,251.5 476.7,251.5 M487.5,254.3 493.8,252.5 500.8,256.1 502.7,256.3 M502.7,256.3 502.5,261.4 501.6,264.0 502.1,269.1 503.7,269.6 505.4,274.5 506.9,274.2 504.0,277.5 503.5,285.2 M502.1,273.2 508.6,274.5 513.5,273.2 514.1,269.6 519.2,269.1 519.8,265.3 521.9,263.0 523.6,260.9 524.6,256.6 529.7,255.3 531.6,254.5 M502.7,256.3 505.4,259.4 509.7,256.8 511.8,254.3 516.6,254.5 518.9,254.3 522.3,252.5 524.0,252.7 524.6,255.8 531.6,254.5 M517.3,289.0 518.7,287.5 522.3,283.9 523.4,278.8 527.2,275.7 529.7,271.7 531.2,270.1 531.0,266.5 532.9,265.8 535.0,261.4 537.7,258.9 M537.7,258.9 541.3,266.5 544.5,272.4 542.4,276.0 M542.4,276.0 546.6,278.6 550.8,279.6 554.0,281.6 559.3,282.1 559.7,278.3 555.0,278.0 550.8,275.5 546.6,272.4 542.4,271.7 544.5,272.4 M561.0,281.4 567.9,281.4 567.7,278.6 564.5,277.5 561.0,279.8 561.0,281.4 M567.7,278.6 571.9,275.5 576.2,277.3 578.9,277.5 M560.7,294.4 560.7,287.5 559.3,286.0 561.4,283.4 567.7,285.2 568.8,287.8 566.7,289.5 568.3,294.7 M568.3,294.7 570.2,292.1 570.7,288.3 572.8,284.4 574.5,281.4 578.9,277.5 M578.9,277.5 581.4,279.3 581.9,284.4 579.7,288.3 582.1,288.0 583.5,293.1 587.1,294.7 M581.0,324.0 582.9,321.0 583.5,315.9 581.6,311.0 580.8,307.2 579.5,302.8 580.6,299.3 584.8,297.5 M584.8,297.5 587.1,294.7 589.2,292.4 590.9,294.9 593.3,299.0 596.2,302.3 598.5,306.2 600.9,311.3 600.4,312.5 M585.7,298.0 587.3,304.1 590.1,303.9 594.5,305.1 596.4,309.5 595.6,313.1 M589.5,314.8 590.9,313.1 595.6,313.1 597.3,313.1 600.4,312.5 600.6,317.4 598.1,320.7 595.2,322.8 M589.2,292.4 593.0,291.3 597.3,291.1 601.5,294.4 M558.8,223.9 564.5,228.0 565.6,233.8 575.1,236.6 578.3,240.5 595.2,243.3 605.7,240.7 609.5,237.9 615.2,235.1 621.5,230.5 626.6,230.3 623.7,227.2 618.4,227.2 619.4,222.3 M619.4,222.3 622.2,223.1 626.4,221.1 628.9,213.6 634.2,212.9 639.5,214.7 642.7,221.8 649.0,224.9 653.2,227.7 658.5,225.9 656.0,233.3 650.0,234.6 650.0,240.7 649.2,241.2 M649.2,241.2 645.8,242.3 643.7,243.5 640.5,243.0 637.4,246.1 635.9,247.6 M639.7,253.3 641.6,251.7 644.3,251.0 M558.8,223.9 563.5,221.1 568.8,219.8 574.0,221.8 580.4,221.1 580.4,217.2 584.6,217.5 589.2,218.5 590.9,221.3 597.3,221.1 601.5,223.6 605.7,223.9 609.9,223.1 615.2,221.3 619.4,222.3 M558.8,223.9 555.0,225.7 554.0,229.5 548.7,229.0 547.7,233.3 542.4,234.6 542.8,241.8 533.9,246.4 529.7,248.7 528.7,248.9 531.6,254.5 M369.7,238.7 373.5,240.5 376.7,241.0 380.3,241.2 M354.7,242.5 356.4,242.8 359.6,242.5 358.9,244.8 358.7,248.1 358.1,248.9 358.7,252.2 357.7,254.5 M379.0,219.0 381.9,221.1 383.6,221.6 385.7,223.1 387.0,223.1 390.8,224.4 389.5,228.0 387.9,228.5 386.2,231.5 388.3,232.3 388.3,236.6 389.3,237.7 M380.7,218.2 383.0,218.2 385.7,218.8 386.2,219.8 M386.2,219.8 386.4,217.2 388.3,216.2 388.3,213.4 M386.2,219.8 387.0,221.1 386.4,221.6 385.7,223.1 M391.7,209.3 394.4,209.6 M403.7,211.9 404.3,215.2 404.7,218.8 405.2,219.3 M405.2,219.3 399.0,221.1 402.6,224.9 400.9,228.2 394.6,228.2 393.6,228.0 389.5,228.0 M405.2,219.3 408.3,221.1 413.2,223.1 M386.2,231.5 388.3,232.3 391.4,231.3 393.6,230.8 395.7,229.7 398.8,229.5 402.4,230.8 402.4,233.1 M393.6,228.7 393.8,229.2 395.7,229.7 M402.6,224.9 405.2,224.4 409.2,225.4 409.2,226.7 407.7,229.7 408.5,230.8 406.6,231.5 M413.2,223.1 421.0,224.1 420.4,225.9 M409.2,226.7 413.2,227.4 416.8,225.7 420.4,225.9 421.8,227.2 M421.6,210.6 423.1,211.1 423.3,215.4 424.2,219.8 421.8,224.1 421.0,224.1 M414.9,210.6 421.6,210.6 M434.5,171.7 433.7,174.5 436.8,176.6 434.7,180.9 436.8,186.0 440.0,188.9 432.2,195.0 M424.6,181.4 423.3,178.4 423.3,175.6 417.8,173.0 417.0,173.1 M417.0,173.1 411.9,174.5 408.3,177.1 406.2,180.4 404.1,183.2 402.8,185.0 399.3,186.8 399.3,189.9 399.7,192.9 400.3,194.5 398.4,196.5 397.6,198.8 M417.8,173.0 421.0,174.0 426.3,174.3 429.2,171.7 M429.7,226.2 432.8,229.7 433.0,233.3 M421.8,227.2 426.1,227.7 429.7,226.2 M421.8,227.2 418.7,230.5 416.4,231.8 M416.4,231.8 418.7,235.4 421.4,236.6 M421.4,236.6 425.2,237.9 430.5,236.9 433.9,237.7 M421.4,236.6 420.8,241.5 422.1,244.1 428.6,244.1 429.7,243.0 432.6,242.3 M415.9,248.4 417.8,245.3 422.1,244.1 M428.6,244.1 429.0,245.1 M408.3,230.8 413.4,232.6 416.4,231.8 M414.7,242.3 416.8,242.3 417.8,245.3" stroke-width="1"/></g>
<g clip-path="url(#mc)" shape-rendering="crispEdges"><path d="M109.6,183.2 113.8,184.0 119.1,183.5 123.3,182.2 121.2,179.7 117.0,178.4 112.8,179.7 109.6,180.7Z M126.5,193.7 131.8,193.5 136.0,192.4 140.2,190.4 142.3,189.1 139.2,189.9 133.9,189.6 130.7,191.2 127.6,191.9Z M138.1,199.8 143.4,198.6 149.7,198.1 151.2,198.8 145.5,199.6Z M157.1,205.2 158.6,203.2 157.8,201.4 156.5,203.2Z M155.0,201.6 156.5,200.1 155.6,199.6 154.2,201.1Z M161.3,216.7 162.8,214.7 161.8,213.9 160.7,215.9Z M164.9,221.1 166.2,219.3 164.7,218.0 164.1,220.0Z M168.3,220.8 169.8,218.5 167.7,214.2 164.9,212.1 166.2,215.4Z M161.3,197.5 163.9,195.0 162.8,194.7 160.7,196.5Z M158.6,189.1 161.3,188.1 159.9,187.1Z M169.8,186.0 173.4,185.3 171.9,184.8Z M185.8,223.1 187.3,222.3 186.7,221.1 185.4,221.8Z M217.3,220.5 219.0,219.3 218.1,218.2 216.9,219.5Z M235.2,212.6 239.5,212.1 238.4,210.3 235.9,210.8Z M225.7,211.6 227.8,210.8 226.2,209.8Z M209.9,212.6 216.2,212.4 213.1,211.6Z M222.6,180.4 226.8,180.2 225.7,178.9 223.2,178.9Z M221.5,184.0 224.7,183.5 223.0,182.7Z M163.5,205.2 165.6,203.9 164.9,202.4 163.2,203.4Z M147.6,203.4 149.7,202.7 148.9,201.6Z M177.2,221.3 180.3,220.5 178.9,219.8Z M172.5,223.9 174.4,223.4 173.6,222.3Z M399.7,199.3 402.6,199.6 403.1,198.1 400.9,197.8Z M403.5,201.6 404.7,200.9 404.3,199.6 403.7,200.4Z M437.9,196.5 442.7,195.0 441.7,193.2 438.9,192.7 436.8,193.7 436.4,195.2Z M446.3,194.0 450.1,192.9 448.4,189.9 446.1,189.9 447.8,192.2Z M431.6,193.2 435.8,191.7 433.7,190.4 431.6,191.9Z M430.9,201.6 432.6,200.9 432.0,198.8 431.1,199.8Z M453.7,201.4 455.8,200.6 454.8,199.1Z M475.9,213.4 478.0,211.6 476.9,207.8 475.9,210.3Z M469.6,224.9 471.7,221.8 470.6,220.5 469.1,223.6Z M490.7,202.7 492.8,200.1 491.7,198.3Z M462.2,228.0 464.3,226.9 464.9,225.9 462.8,226.9Z M402.0,316.9 404.7,315.9 403.7,314.1 401.8,315.1Z M372.4,333.0 374.1,331.7 373.5,327.9 371.4,329.7Z M449.1,343.2 450.8,341.9 450.1,338.1 449.3,339.4Z M439.6,293.6 443.0,289.5 442.3,289.0 438.9,292.9Z M451.6,320.0 452.9,319.7 452.5,318.2Z M534.4,241.5 538.8,241.2 537.1,240.2 534.6,240.5Z M583.8,255.8 586.1,255.8 585.2,254.8Z M429.9,394.6 434.3,391.8 433.7,391.3 430.5,393.6Z M433.7,371.3 434.9,372.3 434.7,373.6Z M592.4,316.6 594.1,317.7 593.7,316.6Z M225.7,388.4 227.4,389.7 228.3,391.3 226.6,390.2Z M592.6,217.7 596.2,217.5 600.4,215.2 603.6,212.1 605.5,207.3 604.2,207.8 601.9,212.1 598.1,214.4 594.1,216.2Z M652.2,235.6 653.8,235.1 653.2,233.8Z M180.1,350.4 181.8,350.1 182.9,351.4 181.0,352.2 180.1,351.4Z M57.7,394.3 58.5,394.6 58.1,395.3Z" fill="#000" stroke="#000" stroke-width="1"/>
<path d="M126,212h3v2h-3zM121,219h3v3h-3zM123,220h4v3h-4zM151,215h2v2h-2zM153,217h5v1h-5zM160,208h3v2h-3zM161,211h5v3h-5zM130,211h4v2h-4zM138,210h4v2h-4zM160,204h5v1h-5zM143,217h2v1h-2zM165,213h2v1h-2zM154,218h3v3h-3zM131,222h2v2h-2zM137,212h3v3h-3zM155,215h5v1h-5zM128,201h2v2h-2zM155,221h3v1h-3zM163,210h2v2h-2zM136,221h4v1h-4zM121,204h2v2h-2zM126,207h5v1h-5zM123,210h5v3h-5zM121,205h3v1h-3zM124,222h3v2h-3zM157,212h2v3h-2zM131,216h3v2h-3zM169,202h3v2h-3zM142,216h5v2h-5zM122,221h3v2h-3zM132,204h2v2h-2zM147,208h5v2h-5zM159,202h3v1h-3zM151,219h3v2h-3zM160,203h2v2h-2zM121,215h3v1h-3zM170,219h5v2h-5zM138,221h3v3h-3zM152,219h2v2h-2zM124,209h3v2h-3zM107,198h5v2h-5zM141,191h3v2h-3zM125,197h2v2h-2zM127,175h3v1h-3zM110,185h4v3h-4zM157,181h4v1h-4zM151,181h3v1h-3zM131,199h3v3h-3zM146,178h4v2h-4zM120,178h3v2h-3zM113,190h2v2h-2zM121,183h4v2h-4zM119,183h2v2h-2zM147,192h2v2h-2zM129,185h3v2h-3zM134,193h2v3h-2zM110,191h2v2h-2zM107,196h3v2h-3zM150,182h3v3h-3zM148,192h3v2h-3zM124,179h2v2h-2zM114,176h2v2h-2zM147,185h2v2h-2zM130,185h2v1h-2zM137,177h2v2h-2zM151,187h3v3h-3zM111,176h5v2h-5zM110,183h2v2h-2zM129,176h4v1h-4zM140,189h2v2h-2zM133,197h5v2h-5zM154,196h5v1h-5zM109,188h2v3h-2zM107,172h2v2h-2zM112,189h2v2h-2zM146,185h2v2h-2zM119,176h2v2h-2zM130,189h3v2h-3zM160,199h5v1h-5zM126,186h4v1h-4zM108,195h5v2h-5zM147,183h5v1h-5zM107,188h5v3h-5zM157,190h3v3h-3zM158,189h5v2h-5zM126,196h2v2h-2zM110,182h2v3h-2zM157,188h4v1h-4zM156,176h4v3h-4zM139,181h2v2h-2zM115,192h2v2h-2zM123,181h4v2h-4zM130,173h5v1h-5zM133,196h2v3h-2zM133,191h3v1h-3zM168,194h3v1h-3zM162,194h4v2h-4zM167,176h3v3h-3zM172,179h5v2h-5zM167,194h3v2h-3zM162,179h5v2h-5zM162,191h2v2h-2zM167,195h4v2h-4zM164,208h5v2h-5zM167,177h2v2h-2zM170,208h5v1h-5zM168,200h2v1h-2zM163,195h2v2h-2zM168,176h2v2h-2zM178,177h4v1h-4zM184,180h5v2h-5zM174,177h3v2h-3zM195,173h4v2h-4zM192,179h2v2h-2zM199,175h2v3h-2zM197,173h4v1h-4zM173,182h5v2h-5zM193,179h4v2h-4zM195,183h2v2h-2zM174,181h3v2h-3zM193,179h2v2h-2zM197,181h4v1h-4zM180,184h2v3h-2zM176,172h3v2h-3zM182,177h2v2h-2zM184,183h4v2h-4zM173,182h2v3h-2zM181,223h2v2h-2zM200,223h2v2h-2zM195,213h3v2h-3zM178,225h2v2h-2zM195,211h2v2h-2zM186,226h5v3h-5zM194,217h2v2h-2zM185,222h5v2h-5zM188,214h4v3h-4zM199,221h3v2h-3zM202,221h4v3h-4zM175,220h2v2h-2zM198,211h3v1h-3zM192,216h2v1h-2zM199,218h2v3h-2zM178,218h5v2h-5zM193,217h2v2h-2zM183,219h3v2h-3zM201,220h3v2h-3zM181,224h5v3h-5zM182,211h2v2h-2zM204,226h4v3h-4zM165,206h4v2h-4zM164,208h3v2h-3zM148,213h2v2h-2zM156,202h4v2h-4zM167,201h4v3h-4zM171,212h3v1h-3zM148,209h2v1h-2zM146,213h2v3h-2zM152,206h2v2h-2zM164,203h3v2h-3zM158,212h3v2h-3zM148,210h3v2h-3zM159,209h4v2h-4zM167,213h3v1h-3zM143,203h3v2h-3zM164,201h2v2h-2zM243,224h5v2h-5zM234,207h2v2h-2zM225,230h2v2h-2zM246,204h5v2h-5zM238,204h2v2h-2zM246,218h5v1h-5zM227,213h3v2h-3zM233,230h5v2h-5zM243,211h3v3h-3zM227,207h3v1h-3zM242,218h2v3h-2zM219,212h3v3h-3zM235,213h5v3h-5zM210,228h3v2h-3zM245,210h5v2h-5zM211,218h4v2h-4zM225,213h2v2h-2zM242,223h4v1h-4zM220,203h3v1h-3zM217,203h3v2h-3zM240,230h3v3h-3zM216,226h2v2h-2zM246,202h4v2h-4zM243,201h3v2h-3zM212,205h4v2h-4zM219,216h5v1h-5zM207,223h2v2h-2zM236,202h4v3h-4zM244,212h5v2h-5zM230,229h3v1h-3zM237,225h5v2h-5zM225,231h2v2h-2zM224,229h2v2h-2zM219,221h2v2h-2zM213,218h3v2h-3zM244,228h2v1h-2zM214,225h2v1h-2zM209,225h2v2h-2zM225,212h3v2h-3zM213,229h3v2h-3zM211,196h3v3h-3zM226,199h3v1h-3zM208,196h4v2h-4zM225,200h2v2h-2zM225,195h2v2h-2zM231,200h2v1h-2zM222,195h2v3h-2zM233,195h4v2h-4zM231,188h3v2h-3zM216,184h3v1h-3zM204,175h3v2h-3zM233,185h2v2h-2zM211,179h2v3h-2zM234,173h3v2h-3zM231,188h4v2h-4zM208,181h4v2h-4zM217,184h2v2h-2zM222,183h2v1h-2zM215,175h2v3h-2zM218,174h3v3h-3zM212,186h5v2h-5zM216,173h2v2h-2zM232,177h3v2h-3zM237,185h2v1h-2zM206,182h3v2h-3zM214,175h3v2h-3zM236,190h5v2h-5zM210,182h3v2h-3zM219,175h3v2h-3zM227,183h3v3h-3zM96,178h2v3h-2zM98,185h2v2h-2zM103,178h4v2h-4zM92,185h3v3h-3zM92,176h2v2h-2zM92,187h3v1h-3zM99,178h2v1h-2zM93,177h2v2h-2zM97,177h3v2h-3zM90,174h3v2h-3zM98,188h3v2h-3zM95,193h2v1h-2zM89,192h2v2h-2zM99,182h2v2h-2zM102,194h2v2h-2zM89,186h2v1h-2zM385,198h3v2h-3zM401,193h5v2h-5zM389,193h2v2h-2zM385,188h3v2h-3zM403,199h3v2h-3zM397,184h2v1h-2zM404,193h5v2h-5zM396,175h4v2h-4zM407,194h2v2h-2zM397,186h4v2h-4zM396,191h4v2h-4zM385,187h4v2h-4zM389,184h4v2h-4zM386,192h3v1h-3zM397,199h2v2h-2zM394,188h5v1h-5zM406,194h2v2h-2zM389,184h5v2h-5zM391,187h2v2h-2zM397,181h3v2h-3zM386,194h4v2h-4zM398,189h3v2h-3zM386,184h2v1h-2zM396,181h3v2h-3zM387,191h4v3h-4zM400,187h2v2h-2zM411,193h2v1h-2zM410,201h5v3h-5zM415,193h2v2h-2zM409,181h5v1h-5zM405,193h3v2h-3zM414,192h3v1h-3zM412,193h2v1h-2zM412,192h2v2h-2zM404,190h3v2h-3zM407,182h4v2h-4zM404,190h2v3h-2zM417,187h5v3h-5zM414,187h5v2h-5zM401,186h2v2h-2zM419,194h3v3h-3zM403,182h2v3h-2zM399,194h3v3h-3zM419,187h4v1h-4zM398,196h3v3h-3zM415,192h5v2h-5zM417,195h2v3h-2zM426,188h3v1h-3zM423,183h5v1h-5zM432,192h5v2h-5zM422,191h5v2h-5zM433,177h3v2h-3zM437,180h4v2h-4zM427,191h2v3h-2zM429,180h2v1h-2zM428,193h2v2h-2zM436,188h3v2h-3zM422,187h3v2h-3zM431,190h3v2h-3zM440,176h5v1h-5zM431,188h5v2h-5zM421,178h5v2h-5zM441,195h3v2h-3zM431,176h2v2h-2zM424,188h3v2h-3zM429,190h3v3h-3zM439,187h4v2h-4zM441,191h3v3h-3zM440,178h2v2h-2zM435,183h2v2h-2zM424,182h2v2h-2zM431,180h2v2h-2zM438,179h3v1h-3zM437,189h3v1h-3zM422,188h5v2h-5zM427,191h4v2h-4zM428,175h3v2h-3zM456,188h3v3h-3zM455,183h2v1h-2zM457,188h2v2h-2zM459,191h4v1h-4zM457,178h3v3h-3zM451,180h2v1h-2zM444,184h3v2h-3zM458,190h3v2h-3zM461,189h5v2h-5zM454,178h4v1h-4zM456,187h2v2h-2zM448,186h2v2h-2zM426,203h2v2h-2zM431,203h3v2h-3zM432,207h4v1h-4zM431,206h2v1h-2zM426,205h4v2h-4zM431,206h4v1h-4zM424,199h4v2h-4zM425,201h2v3h-2zM77,190h5v2h-5zM75,191h5v2h-5zM74,194h4v2h-4zM80,190h5v1h-5zM75,190h2v3h-2zM81,391h4v2h-4zM84,389h4v2h-4zM75,407h4v2h-4zM82,408h4v2h-4zM87,407h2v1h-2zM73,398h4v2h-4zM86,406h4v2h-4zM87,407h5v2h-5zM78,408h3v2h-3zM81,394h2v2h-2zM82,394h4v1h-4zM82,394h2v2h-2zM78,402h5v3h-5zM76,404h2v2h-2zM80,370h2v2h-2zM78,373h3v2h-3zM79,370h5v2h-5zM80,376h3v1h-3z" fill="#000" stroke="none"/>
<path d="M78.4,196.5 83.2,199.6 86.4,201.9 89.6,204.4 92.3,207.5 95.3,209.6 98.6,211.6 101.2,214.7 103.3,217.7 106.5,220.3 109.6,222.3 112.2,224.9" stroke-width="4" fill="none" stroke="#000" stroke-linejoin="round"/>
<path d="M86.4,200.1 90.6,201.4 93.8,205.2 97.0,207.8" stroke-width="3" fill="none" stroke="#000" stroke-linejoin="round"/>
<path d="M409.4,172.8 406.2,174.8 403.1,177.9 400.9,180.4 398.8,183.5 395.7,186.0 392.5,187.6 388.3,189.4 385.1,191.2 384.5,193.7 384.5,195.8 385.3,198.1 386.6,200.4" stroke-width="3" fill="none" stroke="#000" stroke-linejoin="round"/>
<path d="M265.8,172.5 264.2,174.5 261.6,177.1 262.7,180.9 264.8,184.8 267.3,188.1 270.1,191.7 273.2,194.2 278.5,195.8" stroke-width="2.5" fill="none" stroke="#000" stroke-linejoin="round"/>
<path d="M282.1,195.8 284.2,192.4 286.9,188.1 289.1,184.5 293.3,181.7 299.6,179.7 303.8,176.6" stroke-width="2.5" fill="none" stroke="#000" stroke-linejoin="round"/>
<path d="M255.3,215.4 252.1,211.6 247.9,208.3 243.7,204.7 241.6,201.4 238.4,197.5" stroke-width="2.5" fill="none" stroke="#000" stroke-linejoin="round"/>
<path d="M242.6,178.4 238.4,181.7 235.2,184.8 236.7,187.8" stroke-width="2.5" fill="none" stroke="#000" stroke-linejoin="round"/>
<path d="M459.0,228.7 462.2,228.0 465.3,226.2 468.5,222.8 471.2,218.5 474.4,215.2 477.8,213.1 478.6,209.6 481.6,207.5 484.3,206.5" stroke-width="2" fill="none" stroke="#000" stroke-linejoin="round"/>
<path d="M486.4,205.2 489.6,203.4 492.1,200.6" stroke-width="2" fill="none" stroke="#000" stroke-linejoin="round"/>
<path d="M680.9,238.2 683.8,236.4 687.0,234.1 690.2,231.5 693.3,229.0 696.5,226.4 699.6,223.9 702.4,221.3 703.9,219.5" stroke-width="1.5" fill="none" stroke="#000" stroke-linejoin="round"/>
<path d="M421.8,245.8 423.7,246.9 424.8,245.3 428.4,245.3" stroke-width="2" fill="none" stroke="#000" stroke-linejoin="round"/>
<path d="M418.9,194.5 421.0,195.8 424.2,196.0" stroke-width="2.5" fill="none" stroke="#000" stroke-linejoin="round"/>
<path d="M361.5,221.6 364.6,220.8 367.2,220.0 371.4,219.8 374.6,219.8 376.5,218.8 377.1,215.4 374.1,214.2 373.7,212.6 372.4,210.6 370.5,209.0 369.3,206.7 367.2,205.7 369.3,203.7 369.7,202.4 366.1,202.1 366.7,199.8 362.9,199.8 361.7,202.7 360.4,204.7 361.9,207.8 363.2,209.6 366.5,209.3 367.2,211.9 367.2,213.4 364.0,213.1 363.8,214.7 365.1,215.9 362.5,217.5 364.6,218.0 367.2,218.2 364.6,218.8 361.5,221.6" stroke-width="1.8" fill="none" stroke="#000" stroke-linejoin="round"/>
<path d="M360.8,216.2 360.6,213.1 360.8,211.6 361.9,210.3 360.8,208.5 358.3,208.3 356.0,208.5 355.3,210.8 352.4,211.1 353.0,213.4 352.0,216.7 353.4,218.0 356.2,217.2 360.0,216.2 360.8,216.2" stroke-width="1.8" fill="none" stroke="#000" stroke-linejoin="round"/>
<path d="M322.8,182.2 326.0,179.9 331.3,180.9 335.5,180.7 339.7,179.7 342.9,180.4 344.8,183.0 342.7,185.3 338.7,186.6 334.4,187.6 330.2,187.1 325.6,186.6 327.1,185.3 323.9,183.7 326.0,183.0 322.8,182.2" stroke-width="1.8" fill="none" stroke="#000" stroke-linejoin="round"/>
<path d="M248.3,228.0 251.1,225.7 249.0,224.9 251.5,221.8 253.6,219.3 256.3,217.7 255.9,221.1 255.3,223.1 259.5,223.1 261.6,225.4 260.6,228.2 262.3,228.2 261.2,230.3 259.1,230.0 256.3,229.5 252.1,228.0 248.3,228.0" stroke-width="1.8" fill="none" stroke="#000" stroke-linejoin="round"/>
<path d="M673.1,232.0 676.2,231.5 676.6,230.0 674.5,229.0 675.4,224.4 677.9,224.4 675.8,217.2 675.6,213.6 675.4,210.8 673.9,211.1 672.8,213.6 672.6,218.0 673.3,221.8 673.3,226.9 673.1,232.0" stroke-width="1.8" fill="none" stroke="#000" stroke-linejoin="round"/>
<path d="M669.0,243.5 671.6,242.8 672.6,240.7 676.0,242.3 678.1,239.7 680.7,238.9 679.6,236.6 676.6,236.6 673.1,233.3 672.4,236.1 671.8,239.2 669.7,239.2 669.9,241.8 669.0,243.5" stroke-width="1.8" fill="none" stroke="#000" stroke-linejoin="round"/>
<path d="M628.1,302.3 631.5,302.3 631.9,306.2 630.2,309.2 630.2,312.8 631.5,313.6 633.6,314.3 635.3,316.1 635.5,317.4 634.2,316.9 632.3,314.8 629.8,314.3 628.3,313.1 628.7,312.0 627.5,311.0 626.6,308.2 627.7,307.2 627.7,304.6 628.1,302.3" stroke-width="1.8" fill="none" stroke="#000" stroke-linejoin="round"/>
<path d="M574.7,335.3 577.2,336.3 579.3,336.3 581.0,338.6 582.1,340.1 584.0,341.7 585.4,344.0 587.3,344.5 588.8,346.0 590.9,347.3 592.6,349.6 592.2,351.6 594.1,352.7 594.9,355.5 596.6,356.8 597.5,358.5 596.8,361.1 597.1,364.4 595.8,364.4 594.3,364.7 593.0,363.1 590.9,361.1 589.5,359.6 587.3,356.8 586.3,354.2 585.2,351.9 584.0,349.6 582.7,347.0 581.9,345.3 579.7,343.7 578.5,341.2 577.2,339.4 575.3,337.6 574.7,335.3" stroke-width="1.8" fill="none" stroke="#000" stroke-linejoin="round"/>
<path d="M603.6,345.8 604.9,344.5 606.3,345.3 608.2,344.7 608.9,343.0 612.0,341.4 614.2,338.1 616.3,336.8 617.5,335.3 619.0,333.8 620.1,331.7 621.8,333.0 622.8,334.8 625.3,336.3 623.2,338.1 622.2,339.1 622.0,341.4 622.6,343.7 622.4,345.8 624.5,347.0 623.0,348.3 621.8,350.9 621.3,351.9 620.1,352.9 619.0,354.2 619.4,357.3 618.4,358.8 616.3,359.8 615.2,358.5 613.1,357.8 611.0,358.3 609.3,357.3 607.8,357.3 606.1,357.0 605.7,354.2 604.2,352.2 603.8,350.1 603.6,348.3 603.6,345.8" stroke-width="1.8" fill="none" stroke="#000" stroke-linejoin="round"/>
<path d="M650.0,352.9 651.7,351.6 653.2,350.6 655.3,351.4 656.6,351.9 657.0,355.2 658.5,358.0 660.0,357.0 661.2,355.5 663.8,353.7 666.3,354.2 669.0,355.7 670.5,356.0 672.8,357.0 675.4,358.0 677.9,359.3 680.2,361.1 681.3,362.9 683.0,364.7 684.9,365.7 685.5,366.7 684.2,368.8 685.9,370.6 687.2,372.9 689.1,374.6 691.2,375.9 690.2,376.7 688.0,375.9 685.1,375.2 684.2,373.9 682.8,372.1 681.1,369.8 678.5,369.0 677.1,370.0 676.2,372.6 674.5,373.4 672.2,373.1 670.7,372.6 669.3,370.6 667.4,370.3 665.2,371.1 665.0,368.8 666.5,367.0 665.2,363.9 662.7,362.4 658.9,360.8 656.8,359.8 654.9,359.8 653.8,358.5 652.2,357.0 654.3,355.7 652.8,355.5 650.7,353.7 650.0,352.9" stroke-width="1.8" fill="none" stroke="#000" stroke-linejoin="round"/>
<path d="M625.6,363.9 627.7,363.9 627.5,359.8 627.9,357.0 629.1,356.5 630.2,359.3 631.0,361.9 632.5,363.4 633.6,361.4 632.3,360.3 631.5,357.8 630.2,356.0 629.6,354.2 631.5,352.2 633.8,351.9 632.7,351.1 630.2,351.6 628.1,352.9 627.2,351.1 627.5,348.8 630.0,348.3 632.7,348.3 635.3,348.6 637.2,346.3 637.8,345.5 636.3,347.0 633.2,347.3 628.9,346.8 626.8,347.6 626.4,349.6 625.8,351.4 624.5,355.0 624.3,357.3 625.6,358.5 626.0,361.1 625.6,363.9" stroke-width="1.8" fill="none" stroke="#000" stroke-linejoin="round"/>
<path d="M595.6,367.0 597.3,364.9 599.0,364.9 600.6,365.4 602.5,366.0 604.7,367.0 606.6,367.2 607.8,366.2 609.9,367.2 611.4,368.0 613.1,368.8 615.0,369.3 615.2,371.6 613.1,371.1 609.9,370.8 607.2,370.3 604.7,369.5 601.9,369.3 599.4,368.5 597.3,368.3 596.0,367.2 595.6,367.0" stroke-width="1.8" fill="none" stroke="#000" stroke-linejoin="round"/>
<path d="M400.7,207.8 403.5,208.0 404.1,206.5 407.3,206.0 408.3,203.4 408.8,200.6 411.5,198.8 413.0,197.5 411.9,195.5 410.0,194.5 410.0,191.2 411.5,189.1 414.7,187.3 417.4,186.0 418.9,184.0 420.4,182.2 423.1,181.4 425.2,181.4 426.9,182.7 426.3,184.3 423.1,186.0 420.6,187.8 418.5,189.1 418.9,192.4 418.9,194.5 421.0,195.8 424.2,196.0 427.3,195.5 430.5,195.0 433.7,194.7 435.8,195.8 437.5,196.5" stroke-width="2" fill="none" stroke="#000" stroke-linejoin="round"/>
<path d="M391.7,209.3 390.6,207.5 390.8,204.4 393.6,203.7 395.9,202.1 395.2,204.7 395.7,206.5 394.2,209.0" stroke-width="2" fill="none" stroke="#000" stroke-linejoin="round"/></g>
<rect x="71" y="172" width="677" height="269" fill="none" stroke="#000" stroke-width="2"/>
<line x1="65" y1="196.5" x2="70" y2="196.5" stroke="#000" stroke-width="1"/>
<line x1="65" y1="221.5" x2="70" y2="221.5" stroke="#000" stroke-width="1"/>
<line x1="65" y1="247.5" x2="70" y2="247.5" stroke="#000" stroke-width="1"/>
<line x1="65" y1="272.5" x2="70" y2="272.5" stroke="#000" stroke-width="1"/>
<line x1="65" y1="298.5" x2="70" y2="298.5" stroke="#000" stroke-width="1"/>
<line x1="65" y1="323.5" x2="70" y2="323.5" stroke="#000" stroke-width="1"/>
<line x1="65" y1="349.5" x2="70" y2="349.5" stroke="#000" stroke-width="1"/>
<line x1="65" y1="375.5" x2="70" y2="375.5" stroke="#000" stroke-width="1"/>
<line x1="65" y1="400.5" x2="70" y2="400.5" stroke="#000" stroke-width="1"/>
<line x1="65" y1="426.5" x2="70" y2="426.5" stroke="#000" stroke-width="1"/>
<line x1="120.5" y1="442" x2="120.5" y2="447" stroke="#000" stroke-width="1"/>
<line x1="183.5" y1="442" x2="183.5" y2="447" stroke="#000" stroke-width="1"/>
<line x1="246.5" y1="442" x2="246.5" y2="447" stroke="#000" stroke-width="1"/>
<line x1="310.5" y1="442" x2="310.5" y2="447" stroke="#000" stroke-width="1"/>
<line x1="373.5" y1="442" x2="373.5" y2="447" stroke="#000" stroke-width="1"/>
<line x1="436.5" y1="442" x2="436.5" y2="447" stroke="#000" stroke-width="1"/>
<line x1="500.5" y1="442" x2="500.5" y2="447" stroke="#000" stroke-width="1"/>
<line x1="563.5" y1="442" x2="563.5" y2="447" stroke="#000" stroke-width="1"/>
<line x1="626.5" y1="442" x2="626.5" y2="447" stroke="#000" stroke-width="1"/>
<line x1="690.5" y1="442" x2="690.5" y2="447" stroke="#000" stroke-width="1"/>
<text x="37.0" y="203.0" font-size="16.0" textLength="26.32" lengthAdjust="spacingAndGlyphs">60N</text>
<text x="37.0" y="228.0" font-size="16.0" textLength="26.32" lengthAdjust="spacingAndGlyphs">50N</text>
<text x="38.0" y="254.0" font-size="16.0" textLength="25.26" lengthAdjust="spacingAndGlyphs">40N</text>
<text x="37.0" y="279.0" font-size="16.0" textLength="26.32" lengthAdjust="spacingAndGlyphs">30N</text>
<text x="37.0" y="305.0" font-size="16.0" textLength="26.32" lengthAdjust="spacingAndGlyphs">20N</text>
<text x="37.0" y="330.0" font-size="16.0" textLength="27.37" lengthAdjust="spacingAndGlyphs">10N</text>
<text x="45.0" y="356.0" font-size="16.0" textLength="16.0" lengthAdjust="spacingAndGlyphs">EQ</text>
<text x="37.0" y="382.0" font-size="16.0" textLength="26.32" lengthAdjust="spacingAndGlyphs">10S</text>
<text x="37.0" y="407.0" font-size="16.0" textLength="25.26" lengthAdjust="spacingAndGlyphs">20S</text>
<text x="37.0" y="433.0" font-size="16.0" textLength="25.26" lengthAdjust="spacingAndGlyphs">30S</text>
<text x="103.0" y="461.0" font-size="16.0" textLength="34.87" lengthAdjust="spacingAndGlyphs">120W</text>
<text x="170.0" y="461.0" font-size="16.0" textLength="27.69" lengthAdjust="spacingAndGlyphs">90W</text>
<text x="233.0" y="461.0" font-size="16.0" textLength="27.69" lengthAdjust="spacingAndGlyphs">60W</text>
<text x="297.0" y="461.0" font-size="16.0" textLength="27.69" lengthAdjust="spacingAndGlyphs">30W</text>
<text x="369.0" y="461.0" font-size="16.0" textLength="9.41" lengthAdjust="spacingAndGlyphs">0</text>
<text x="425.0" y="461.0" font-size="16.0" textLength="25.26" lengthAdjust="spacingAndGlyphs">30E</text>
<text x="489.0" y="461.0" font-size="16.0" textLength="25.26" lengthAdjust="spacingAndGlyphs">60E</text>
<text x="551.0" y="461.0" font-size="16.0" textLength="25.26" lengthAdjust="spacingAndGlyphs">90E</text>
<text x="611.0" y="461.0" font-size="16.0" textLength="32.63" lengthAdjust="spacingAndGlyphs">120E</text>
<text x="675.0" y="461.0" font-size="16.0" textLength="32.63" lengthAdjust="spacingAndGlyphs">150E</text>
<text x="217.0" y="555.0" font-size="14.5" textLength="9.41" lengthAdjust="spacingAndGlyphs">5</text>
<text x="271.0" y="555.0" font-size="14.5" textLength="15.56" lengthAdjust="spacingAndGlyphs">10</text>
<text x="329.0" y="555.0" font-size="14.5" textLength="14.44" lengthAdjust="spacingAndGlyphs">25</text>
<text x="385.0" y="555.0" font-size="14.5" textLength="14.44" lengthAdjust="spacingAndGlyphs">50</text>
<text x="438.0" y="555.0" font-size="14.5" textLength="25.95" lengthAdjust="spacingAndGlyphs">100</text>
<text x="495.0" y="555.0" font-size="14.5" textLength="25.95" lengthAdjust="spacingAndGlyphs">150</text>
<text x="552.0" y="555.0" font-size="14.5" textLength="25.26" lengthAdjust="spacingAndGlyphs">300</text>
<text x="602.0" y="555.0" font-size="14.5" textLength="36.76" lengthAdjust="spacingAndGlyphs">[mm]</text>
<rect x="220.00" y="526" width="57.25" height="15" fill="#a0e632"/>
<rect x="277.25" y="526" width="57.25" height="15" fill="#00dc00"/>
<rect x="334.50" y="526" width="57.25" height="15" fill="#00c8c8"/>
<rect x="391.75" y="526" width="57.25" height="15" fill="#1e3cff"/>
<rect x="449.00" y="526" width="57.25" height="15" fill="#e6dc32"/>
<rect x="506.25" y="526" width="57.25" height="15" fill="#f08228"/>
<rect x="220.50" y="527.5" width="57.25" height="14" fill="none" stroke="#000" stroke-width="1"/>
<rect x="277.75" y="527.5" width="57.25" height="14" fill="none" stroke="#000" stroke-width="1"/>
<rect x="335.00" y="527.5" width="57.25" height="14" fill="none" stroke="#000" stroke-width="1"/>
<rect x="392.25" y="527.5" width="57.25" height="14" fill="none" stroke="#000" stroke-width="1"/>
<rect x="449.50" y="527.5" width="57.25" height="14" fill="none" stroke="#000" stroke-width="1"/>
<rect x="506.75" y="527.5" width="57.25" height="14" fill="none" stroke="#000" stroke-width="1"/>
<polygon points="163,534 220.5,527.5 220.5,541.5" fill="#aaaaaa" stroke="#000" stroke-width="1" shape-rendering="auto"/>
<polygon points="621,534 564.0,527.5 564.0,541.5" fill="#fa3c3c" stroke="#000" stroke-width="1" shape-rendering="auto"/>
</svg>
</body></html>
